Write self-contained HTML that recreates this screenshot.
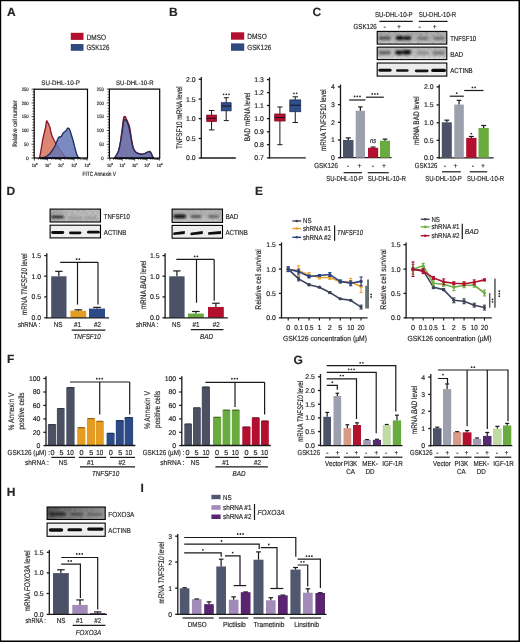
<!DOCTYPE html><html><head><meta charset="utf-8"><style>html,body{margin:0;padding:0;background:#fff;}svg{display:block;will-change:transform;}text{font-family:"Liberation Sans",sans-serif;fill:#262626;text-rendering:geometricPrecision;stroke:#262626;stroke-width:0.17px;}</style></head><body>
<svg width="520" height="642" viewBox="0 0 520 642">
<defs><filter id="bl" x="-20%" y="-50%" width="140%" height="200%"><feGaussianBlur stdDeviation="0.85"/></filter><filter id="bl2" x="-20%" y="-50%" width="140%" height="200%"><feGaussianBlur stdDeviation="0.5"/></filter><filter id="bl3" x="-20%" y="-50%" width="140%" height="200%"><feGaussianBlur stdDeviation="0.65"/></filter><filter id="nz" x="0" y="0" width="100%" height="100%"><feTurbulence type="fractalNoise" baseFrequency="0.35 0.6" numOctaves="2" seed="3"/><feColorMatrix type="matrix" values="1.6 0 0 0 -0.3  1.6 0 0 0 -0.3  1.6 0 0 0 -0.3  0 0 0 0 1"/></filter></defs>
<rect x="0" y="0" width="520" height="642" fill="#fff"/>
<text x="6.9" y="16.3" font-size="12" font-weight="bold" fill="#000">A</text>
<rect x="70.8" y="32.8" width="12.7" height="7.1" fill="#b30f2e"/>
<rect x="70.8" y="44" width="12.7" height="6.8" fill="#2f4a80"/>
<text x="86.7" y="39.5" font-size="7.7" textLength="19.3" lengthAdjust="spacingAndGlyphs">DMSO</text>
<text x="86.4" y="50.4" font-size="7.7" textLength="23" lengthAdjust="spacingAndGlyphs">GSK126</text>
<polygon points="39.5,158 41,150 42.8,139.2 44.5,132 45.7,127 46.3,122 46.9,120.7 47.5,122.5 48.5,123.5 49.3,126 50.1,127.5 50.6,131 51.2,133 52.1,136.4 53,138 54.2,140.5 55.4,142.5 57,145.3 59,148.3 61,151.3 63,154.3 65,156.6 66.8,158" fill="#dc8674" stroke="#8a1428" stroke-width="1.3" stroke-linejoin="round"/>
<polygon points="41,158 44,157.5 47,156 50,153.5 53,149.5 55.4,145 57.4,140 58.5,137.5 59.4,136.8 60.4,137 61.4,136.4 62.5,134 63.8,132.4 65,131.5 65.9,130.7 67,129 67.9,127.9 68.7,128.5 69.5,129.1 70.7,132.8 71.7,136 72.7,139.2 73.7,143 74.8,147.3 75.8,151 76.8,154.6 78,157 80,158" fill="rgba(100,118,182,0.85)" stroke="#1f2d5c" stroke-width="1.3" stroke-linejoin="round"/>
<polygon points="114.5,158 116.5,155 118.5,151 119.8,145.5 120.8,139.5 121.6,133 122.4,127 123.1,121 123.6,118 124.2,116.4 124.9,117.2 125.5,116.6 126.2,118.5 127,120.3 128,122.5 129.2,125.5 130.2,130 131,135.5 131.8,140.6 132.6,145 133.5,148.4 134.8,151 136.4,152.6 138.5,153.4 141,154.2 143,154 144.9,153.4 146.5,152.6 148,151.8 149.3,151.4 150.4,151.8 151.4,153.8 152.2,155.7 153.5,158" fill="#dc8674" stroke="#8a1428" stroke-width="1.3" stroke-linejoin="round"/>
<polygon points="114.5,158 116.5,155 118.5,151.3 119.8,146 120.8,140.4 121.6,135.5 122.4,131 123.1,125 123.6,121.7 124.4,119.2 125.2,120.2 125.8,119.6 126.5,121 127.2,122.2 128.3,125.2 129.1,128 129.8,131.5 130.6,136 131.4,140.6 132.3,145 133.2,148.4 134.6,151 136.4,152.8 138.5,153.6 141,154.4 143,154.2 144.9,153.6 146.5,152.8 148,152 149.3,151.6 150.4,152 151.4,154 152.2,155.9 153.5,158" fill="rgba(100,118,182,0.85)" stroke="#1f2d5c" stroke-width="1.3" stroke-linejoin="round"/>
<rect x="34.2" y="89.2" width="53.3" height="68.8" fill="none" stroke="#000" stroke-width="1.2"/>
<rect x="109.4" y="89.1" width="50.3" height="69" fill="none" stroke="#000" stroke-width="1.2"/>
<line x1="31.6" y1="158" x2="34.2" y2="158" stroke="#111" stroke-width="0.8"/>
<line x1="32.5" y1="155.25" x2="34.2" y2="155.25" stroke="#111" stroke-width="0.8"/>
<line x1="32.5" y1="152.5" x2="34.2" y2="152.5" stroke="#111" stroke-width="0.8"/>
<line x1="32.5" y1="149.74" x2="34.2" y2="149.74" stroke="#111" stroke-width="0.8"/>
<line x1="32.5" y1="146.99" x2="34.2" y2="146.99" stroke="#111" stroke-width="0.8"/>
<line x1="31.6" y1="144.24" x2="34.2" y2="144.24" stroke="#111" stroke-width="0.8"/>
<line x1="32.5" y1="141.49" x2="34.2" y2="141.49" stroke="#111" stroke-width="0.8"/>
<line x1="32.5" y1="138.74" x2="34.2" y2="138.74" stroke="#111" stroke-width="0.8"/>
<line x1="32.5" y1="135.98" x2="34.2" y2="135.98" stroke="#111" stroke-width="0.8"/>
<line x1="32.5" y1="133.23" x2="34.2" y2="133.23" stroke="#111" stroke-width="0.8"/>
<line x1="31.6" y1="130.48" x2="34.2" y2="130.48" stroke="#111" stroke-width="0.8"/>
<line x1="32.5" y1="127.73" x2="34.2" y2="127.73" stroke="#111" stroke-width="0.8"/>
<line x1="32.5" y1="124.98" x2="34.2" y2="124.98" stroke="#111" stroke-width="0.8"/>
<line x1="32.5" y1="122.22" x2="34.2" y2="122.22" stroke="#111" stroke-width="0.8"/>
<line x1="32.5" y1="119.47" x2="34.2" y2="119.47" stroke="#111" stroke-width="0.8"/>
<line x1="31.6" y1="116.72" x2="34.2" y2="116.72" stroke="#111" stroke-width="0.8"/>
<line x1="32.5" y1="113.97" x2="34.2" y2="113.97" stroke="#111" stroke-width="0.8"/>
<line x1="32.5" y1="111.22" x2="34.2" y2="111.22" stroke="#111" stroke-width="0.8"/>
<line x1="32.5" y1="108.46" x2="34.2" y2="108.46" stroke="#111" stroke-width="0.8"/>
<line x1="32.5" y1="105.71" x2="34.2" y2="105.71" stroke="#111" stroke-width="0.8"/>
<line x1="31.6" y1="102.96" x2="34.2" y2="102.96" stroke="#111" stroke-width="0.8"/>
<line x1="32.5" y1="100.21" x2="34.2" y2="100.21" stroke="#111" stroke-width="0.8"/>
<line x1="32.5" y1="97.46" x2="34.2" y2="97.46" stroke="#111" stroke-width="0.8"/>
<line x1="32.5" y1="94.7" x2="34.2" y2="94.7" stroke="#111" stroke-width="0.8"/>
<line x1="32.5" y1="91.95" x2="34.2" y2="91.95" stroke="#111" stroke-width="0.8"/>
<line x1="31.6" y1="89.2" x2="34.2" y2="89.2" stroke="#111" stroke-width="0.8"/>
<text x="28.6" y="159.6" font-size="4.84" text-anchor="end" fill="#333">0</text>
<text x="28.6" y="145.84" font-size="4.84" text-anchor="end" textLength="4.65" lengthAdjust="spacingAndGlyphs" fill="#333">50</text>
<text x="28.6" y="132.08" font-size="4.84" text-anchor="end" textLength="6.97" lengthAdjust="spacingAndGlyphs" fill="#333">100</text>
<text x="28.6" y="118.32" font-size="4.84" text-anchor="end" textLength="6.97" lengthAdjust="spacingAndGlyphs" fill="#333">150</text>
<text x="28.6" y="104.56" font-size="4.84" text-anchor="end" textLength="6.97" lengthAdjust="spacingAndGlyphs" fill="#333">200</text>
<text x="28.6" y="90.8" font-size="4.84" text-anchor="end" textLength="6.97" lengthAdjust="spacingAndGlyphs" fill="#333">250</text>
<line x1="34.4" y1="158" x2="34.4" y2="160.6" stroke="#111" stroke-width="0.8"/>
<line x1="38.37" y1="158" x2="38.37" y2="159.6" stroke="#111" stroke-width="0.8"/>
<line x1="40.7" y1="158" x2="40.7" y2="159.6" stroke="#111" stroke-width="0.8"/>
<line x1="42.35" y1="158" x2="42.35" y2="159.6" stroke="#111" stroke-width="0.8"/>
<line x1="43.63" y1="158" x2="43.63" y2="159.6" stroke="#111" stroke-width="0.8"/>
<line x1="44.67" y1="158" x2="44.67" y2="159.6" stroke="#111" stroke-width="0.8"/>
<line x1="45.56" y1="158" x2="45.56" y2="159.6" stroke="#111" stroke-width="0.8"/>
<line x1="46.32" y1="158" x2="46.32" y2="159.6" stroke="#111" stroke-width="0.8"/>
<line x1="47" y1="158" x2="47" y2="159.6" stroke="#111" stroke-width="0.8"/>
<line x1="47.6" y1="158" x2="47.6" y2="160.6" stroke="#111" stroke-width="0.8"/>
<line x1="51.57" y1="158" x2="51.57" y2="159.6" stroke="#111" stroke-width="0.8"/>
<line x1="53.9" y1="158" x2="53.9" y2="159.6" stroke="#111" stroke-width="0.8"/>
<line x1="55.55" y1="158" x2="55.55" y2="159.6" stroke="#111" stroke-width="0.8"/>
<line x1="56.83" y1="158" x2="56.83" y2="159.6" stroke="#111" stroke-width="0.8"/>
<line x1="57.87" y1="158" x2="57.87" y2="159.6" stroke="#111" stroke-width="0.8"/>
<line x1="58.76" y1="158" x2="58.76" y2="159.6" stroke="#111" stroke-width="0.8"/>
<line x1="59.52" y1="158" x2="59.52" y2="159.6" stroke="#111" stroke-width="0.8"/>
<line x1="60.2" y1="158" x2="60.2" y2="159.6" stroke="#111" stroke-width="0.8"/>
<line x1="60.8" y1="158" x2="60.8" y2="160.6" stroke="#111" stroke-width="0.8"/>
<line x1="64.77" y1="158" x2="64.77" y2="159.6" stroke="#111" stroke-width="0.8"/>
<line x1="67.1" y1="158" x2="67.1" y2="159.6" stroke="#111" stroke-width="0.8"/>
<line x1="68.75" y1="158" x2="68.75" y2="159.6" stroke="#111" stroke-width="0.8"/>
<line x1="70.03" y1="158" x2="70.03" y2="159.6" stroke="#111" stroke-width="0.8"/>
<line x1="71.07" y1="158" x2="71.07" y2="159.6" stroke="#111" stroke-width="0.8"/>
<line x1="71.96" y1="158" x2="71.96" y2="159.6" stroke="#111" stroke-width="0.8"/>
<line x1="72.72" y1="158" x2="72.72" y2="159.6" stroke="#111" stroke-width="0.8"/>
<line x1="73.4" y1="158" x2="73.4" y2="159.6" stroke="#111" stroke-width="0.8"/>
<line x1="74" y1="158" x2="74" y2="160.6" stroke="#111" stroke-width="0.8"/>
<line x1="77.97" y1="158" x2="77.97" y2="159.6" stroke="#111" stroke-width="0.8"/>
<line x1="80.3" y1="158" x2="80.3" y2="159.6" stroke="#111" stroke-width="0.8"/>
<line x1="81.95" y1="158" x2="81.95" y2="159.6" stroke="#111" stroke-width="0.8"/>
<line x1="83.23" y1="158" x2="83.23" y2="159.6" stroke="#111" stroke-width="0.8"/>
<line x1="84.27" y1="158" x2="84.27" y2="159.6" stroke="#111" stroke-width="0.8"/>
<line x1="85.16" y1="158" x2="85.16" y2="159.6" stroke="#111" stroke-width="0.8"/>
<line x1="85.92" y1="158" x2="85.92" y2="159.6" stroke="#111" stroke-width="0.8"/>
<line x1="86.6" y1="158" x2="86.6" y2="159.6" stroke="#111" stroke-width="0.8"/>
<line x1="87.2" y1="158" x2="87.2" y2="160.6" stroke="#111" stroke-width="0.7"/>
<text x="33.9" y="167.2" font-size="4.62" text-anchor="middle" textLength="4.44" lengthAdjust="spacingAndGlyphs" fill="#333">10</text>
<text x="36" y="164.6" font-size="2.86" fill="#333">0</text>
<text x="47.1" y="167.2" font-size="4.62" text-anchor="middle" textLength="4.44" lengthAdjust="spacingAndGlyphs" fill="#333">10</text>
<text x="49.2" y="164.6" font-size="2.86" fill="#333">1</text>
<text x="60.3" y="167.2" font-size="4.62" text-anchor="middle" textLength="4.44" lengthAdjust="spacingAndGlyphs" fill="#333">10</text>
<text x="62.4" y="164.6" font-size="2.86" fill="#333">2</text>
<text x="73.5" y="167.2" font-size="4.62" text-anchor="middle" textLength="4.44" lengthAdjust="spacingAndGlyphs" fill="#333">10</text>
<text x="75.6" y="164.6" font-size="2.86" fill="#333">3</text>
<text x="86.7" y="167.2" font-size="4.62" text-anchor="middle" textLength="4.44" lengthAdjust="spacingAndGlyphs" fill="#333">10</text>
<text x="88.8" y="164.6" font-size="2.86" fill="#333">4</text>
<line x1="106.8" y1="158.1" x2="109.4" y2="158.1" stroke="#111" stroke-width="0.8"/>
<line x1="107.7" y1="155.34" x2="109.4" y2="155.34" stroke="#111" stroke-width="0.8"/>
<line x1="107.7" y1="152.58" x2="109.4" y2="152.58" stroke="#111" stroke-width="0.8"/>
<line x1="107.7" y1="149.82" x2="109.4" y2="149.82" stroke="#111" stroke-width="0.8"/>
<line x1="107.7" y1="147.06" x2="109.4" y2="147.06" stroke="#111" stroke-width="0.8"/>
<line x1="106.8" y1="144.3" x2="109.4" y2="144.3" stroke="#111" stroke-width="0.8"/>
<line x1="107.7" y1="141.54" x2="109.4" y2="141.54" stroke="#111" stroke-width="0.8"/>
<line x1="107.7" y1="138.78" x2="109.4" y2="138.78" stroke="#111" stroke-width="0.8"/>
<line x1="107.7" y1="136.02" x2="109.4" y2="136.02" stroke="#111" stroke-width="0.8"/>
<line x1="107.7" y1="133.26" x2="109.4" y2="133.26" stroke="#111" stroke-width="0.8"/>
<line x1="106.8" y1="130.5" x2="109.4" y2="130.5" stroke="#111" stroke-width="0.8"/>
<line x1="107.7" y1="127.74" x2="109.4" y2="127.74" stroke="#111" stroke-width="0.8"/>
<line x1="107.7" y1="124.98" x2="109.4" y2="124.98" stroke="#111" stroke-width="0.8"/>
<line x1="107.7" y1="122.22" x2="109.4" y2="122.22" stroke="#111" stroke-width="0.8"/>
<line x1="107.7" y1="119.46" x2="109.4" y2="119.46" stroke="#111" stroke-width="0.8"/>
<line x1="106.8" y1="116.7" x2="109.4" y2="116.7" stroke="#111" stroke-width="0.8"/>
<line x1="107.7" y1="113.94" x2="109.4" y2="113.94" stroke="#111" stroke-width="0.8"/>
<line x1="107.7" y1="111.18" x2="109.4" y2="111.18" stroke="#111" stroke-width="0.8"/>
<line x1="107.7" y1="108.42" x2="109.4" y2="108.42" stroke="#111" stroke-width="0.8"/>
<line x1="107.7" y1="105.66" x2="109.4" y2="105.66" stroke="#111" stroke-width="0.8"/>
<line x1="106.8" y1="102.9" x2="109.4" y2="102.9" stroke="#111" stroke-width="0.8"/>
<line x1="107.7" y1="100.14" x2="109.4" y2="100.14" stroke="#111" stroke-width="0.8"/>
<line x1="107.7" y1="97.38" x2="109.4" y2="97.38" stroke="#111" stroke-width="0.8"/>
<line x1="107.7" y1="94.62" x2="109.4" y2="94.62" stroke="#111" stroke-width="0.8"/>
<line x1="107.7" y1="91.86" x2="109.4" y2="91.86" stroke="#111" stroke-width="0.8"/>
<line x1="106.8" y1="89.1" x2="109.4" y2="89.1" stroke="#111" stroke-width="0.8"/>
<text x="103.8" y="159.7" font-size="4.84" text-anchor="end" fill="#333">0</text>
<text x="103.8" y="145.9" font-size="4.84" text-anchor="end" textLength="4.65" lengthAdjust="spacingAndGlyphs" fill="#333">50</text>
<text x="103.8" y="132.1" font-size="4.84" text-anchor="end" textLength="6.97" lengthAdjust="spacingAndGlyphs" fill="#333">100</text>
<text x="103.8" y="118.3" font-size="4.84" text-anchor="end" textLength="6.97" lengthAdjust="spacingAndGlyphs" fill="#333">150</text>
<text x="103.8" y="104.5" font-size="4.84" text-anchor="end" textLength="6.97" lengthAdjust="spacingAndGlyphs" fill="#333">200</text>
<text x="103.8" y="90.7" font-size="4.84" text-anchor="end" textLength="6.97" lengthAdjust="spacingAndGlyphs" fill="#333">250</text>
<line x1="109.8" y1="158.1" x2="109.8" y2="160.7" stroke="#111" stroke-width="0.8"/>
<line x1="113.53" y1="158.1" x2="113.53" y2="159.7" stroke="#111" stroke-width="0.8"/>
<line x1="115.72" y1="158.1" x2="115.72" y2="159.7" stroke="#111" stroke-width="0.8"/>
<line x1="117.27" y1="158.1" x2="117.27" y2="159.7" stroke="#111" stroke-width="0.8"/>
<line x1="118.47" y1="158.1" x2="118.47" y2="159.7" stroke="#111" stroke-width="0.8"/>
<line x1="119.45" y1="158.1" x2="119.45" y2="159.7" stroke="#111" stroke-width="0.8"/>
<line x1="120.28" y1="158.1" x2="120.28" y2="159.7" stroke="#111" stroke-width="0.8"/>
<line x1="121" y1="158.1" x2="121" y2="159.7" stroke="#111" stroke-width="0.8"/>
<line x1="121.63" y1="158.1" x2="121.63" y2="159.7" stroke="#111" stroke-width="0.8"/>
<line x1="122.2" y1="158.1" x2="122.2" y2="160.7" stroke="#111" stroke-width="0.8"/>
<line x1="125.93" y1="158.1" x2="125.93" y2="159.7" stroke="#111" stroke-width="0.8"/>
<line x1="128.12" y1="158.1" x2="128.12" y2="159.7" stroke="#111" stroke-width="0.8"/>
<line x1="129.67" y1="158.1" x2="129.67" y2="159.7" stroke="#111" stroke-width="0.8"/>
<line x1="130.87" y1="158.1" x2="130.87" y2="159.7" stroke="#111" stroke-width="0.8"/>
<line x1="131.85" y1="158.1" x2="131.85" y2="159.7" stroke="#111" stroke-width="0.8"/>
<line x1="132.68" y1="158.1" x2="132.68" y2="159.7" stroke="#111" stroke-width="0.8"/>
<line x1="133.4" y1="158.1" x2="133.4" y2="159.7" stroke="#111" stroke-width="0.8"/>
<line x1="134.03" y1="158.1" x2="134.03" y2="159.7" stroke="#111" stroke-width="0.8"/>
<line x1="134.6" y1="158.1" x2="134.6" y2="160.7" stroke="#111" stroke-width="0.8"/>
<line x1="138.33" y1="158.1" x2="138.33" y2="159.7" stroke="#111" stroke-width="0.8"/>
<line x1="140.52" y1="158.1" x2="140.52" y2="159.7" stroke="#111" stroke-width="0.8"/>
<line x1="142.07" y1="158.1" x2="142.07" y2="159.7" stroke="#111" stroke-width="0.8"/>
<line x1="143.27" y1="158.1" x2="143.27" y2="159.7" stroke="#111" stroke-width="0.8"/>
<line x1="144.25" y1="158.1" x2="144.25" y2="159.7" stroke="#111" stroke-width="0.8"/>
<line x1="145.08" y1="158.1" x2="145.08" y2="159.7" stroke="#111" stroke-width="0.8"/>
<line x1="145.8" y1="158.1" x2="145.8" y2="159.7" stroke="#111" stroke-width="0.8"/>
<line x1="146.43" y1="158.1" x2="146.43" y2="159.7" stroke="#111" stroke-width="0.8"/>
<line x1="147" y1="158.1" x2="147" y2="160.7" stroke="#111" stroke-width="0.8"/>
<line x1="150.73" y1="158.1" x2="150.73" y2="159.7" stroke="#111" stroke-width="0.8"/>
<line x1="152.92" y1="158.1" x2="152.92" y2="159.7" stroke="#111" stroke-width="0.8"/>
<line x1="154.47" y1="158.1" x2="154.47" y2="159.7" stroke="#111" stroke-width="0.8"/>
<line x1="155.67" y1="158.1" x2="155.67" y2="159.7" stroke="#111" stroke-width="0.8"/>
<line x1="156.65" y1="158.1" x2="156.65" y2="159.7" stroke="#111" stroke-width="0.8"/>
<line x1="157.48" y1="158.1" x2="157.48" y2="159.7" stroke="#111" stroke-width="0.8"/>
<line x1="158.2" y1="158.1" x2="158.2" y2="159.7" stroke="#111" stroke-width="0.8"/>
<line x1="158.83" y1="158.1" x2="158.83" y2="159.7" stroke="#111" stroke-width="0.8"/>
<line x1="159.4" y1="158.1" x2="159.4" y2="160.7" stroke="#111" stroke-width="0.7"/>
<text x="109.3" y="167.2" font-size="4.62" text-anchor="middle" textLength="4.44" lengthAdjust="spacingAndGlyphs" fill="#333">10</text>
<text x="111.4" y="164.6" font-size="2.86" fill="#333">0</text>
<text x="121.7" y="167.2" font-size="4.62" text-anchor="middle" textLength="4.44" lengthAdjust="spacingAndGlyphs" fill="#333">10</text>
<text x="123.8" y="164.6" font-size="2.86" fill="#333">1</text>
<text x="134.1" y="167.2" font-size="4.62" text-anchor="middle" textLength="4.44" lengthAdjust="spacingAndGlyphs" fill="#333">10</text>
<text x="136.2" y="164.6" font-size="2.86" fill="#333">2</text>
<text x="146.5" y="167.2" font-size="4.62" text-anchor="middle" textLength="4.44" lengthAdjust="spacingAndGlyphs" fill="#333">10</text>
<text x="148.6" y="164.6" font-size="2.86" fill="#333">3</text>
<text x="158.9" y="167.2" font-size="4.62" text-anchor="middle" textLength="4.44" lengthAdjust="spacingAndGlyphs" fill="#333">10</text>
<text x="161" y="164.6" font-size="2.86" fill="#333">4</text>
<text x="60.6" y="84.6" font-size="6.6" text-anchor="middle" textLength="38.5" lengthAdjust="spacingAndGlyphs">SU-DHL-10-P</text>
<text x="134.8" y="84.6" font-size="6.6" text-anchor="middle" textLength="37.5" lengthAdjust="spacingAndGlyphs">SU-DHL-10-R</text>
<text x="99.3" y="176.2" font-size="6.16" text-anchor="middle" textLength="33.5" lengthAdjust="spacingAndGlyphs">FITC Annexin V</text>
<text x="16.54" y="123.6" font-size="6.4" text-anchor="middle" textLength="46.4" lengthAdjust="spacingAndGlyphs" transform="rotate(-90 16.54 123.6)">Relative cell number</text>
<text x="169" y="16.3" font-size="12" font-weight="bold" fill="#000">B</text>
<rect x="231" y="32.3" width="13.2" height="7.4" fill="#b30f2e"/>
<rect x="231" y="43.4" width="13.2" height="7.4" fill="#2f4a80"/>
<text x="247.2" y="39" font-size="7.48" textLength="19.6" lengthAdjust="spacingAndGlyphs">DMSO</text>
<text x="247.2" y="50.2" font-size="7.48" textLength="24" lengthAdjust="spacingAndGlyphs">GSK126</text>
<line x1="201.3" y1="77" x2="201.3" y2="158.5" stroke="#1a1a1a" stroke-width="1.3"/>
<line x1="198.7" y1="79.3" x2="201.3" y2="79.3" stroke="#1a1a1a" stroke-width="1.3"/>
<text x="195.7" y="81.75" font-size="6.9" text-anchor="end">2.0</text>
<line x1="198.7" y1="99.1" x2="201.3" y2="99.1" stroke="#1a1a1a" stroke-width="1.3"/>
<text x="195.7" y="101.55" font-size="6.9" text-anchor="end">1.5</text>
<line x1="198.7" y1="118.7" x2="201.3" y2="118.7" stroke="#1a1a1a" stroke-width="1.3"/>
<text x="195.7" y="121.15" font-size="6.9" text-anchor="end">1.0</text>
<line x1="198.7" y1="138.5" x2="201.3" y2="138.5" stroke="#1a1a1a" stroke-width="1.3"/>
<text x="195.7" y="140.95" font-size="6.9" text-anchor="end">0.5</text>
<line x1="198.7" y1="158" x2="201.3" y2="158" stroke="#1a1a1a" stroke-width="1.3"/>
<text x="195.7" y="160.45" font-size="6.9" text-anchor="end">0.0</text>
<line x1="200.8" y1="158" x2="235.8" y2="158" stroke="#1a1a1a" stroke-width="1.3"/>
<line x1="211.55" y1="110.5" x2="211.55" y2="129.9" stroke="#1a1a1a" stroke-width="1"/>
<line x1="208.9" y1="110.5" x2="214.5" y2="110.5" stroke="#1a1a1a" stroke-width="1"/>
<line x1="208.9" y1="129.9" x2="214.5" y2="129.9" stroke="#1a1a1a" stroke-width="1"/>
<rect x="206.7" y="115.1" width="9.7" height="6.3" fill="#b30f2e" stroke="#7a0a20" stroke-width="0.8"/>
<line x1="206.7" y1="118.3" x2="216.4" y2="118.3" stroke="#1a1020" stroke-width="1"/>
<line x1="226.2" y1="97.7" x2="226.2" y2="120.6" stroke="#1a1a1a" stroke-width="1"/>
<line x1="223.8" y1="97.7" x2="228.8" y2="97.7" stroke="#1a1a1a" stroke-width="1"/>
<line x1="223.8" y1="120.6" x2="228.8" y2="120.6" stroke="#1a1a1a" stroke-width="1"/>
<rect x="221.3" y="102.7" width="9.8" height="8.1" fill="#2f4f8a" stroke="#1a2f5a" stroke-width="0.8"/>
<line x1="221.3" y1="106.1" x2="231.1" y2="106.1" stroke="#1a1020" stroke-width="1"/>
<circle cx="223.6" cy="94.3" r="0.9" fill="#2a2a2a"/>
<circle cx="226.3" cy="94.3" r="0.9" fill="#2a2a2a"/>
<circle cx="229" cy="94.3" r="0.9" fill="#2a2a2a"/>
<text x="181.56" y="117.7" font-size="8.1" text-anchor="middle" textLength="62.6" lengthAdjust="spacingAndGlyphs" transform="rotate(-90 181.56 117.7)">TNFSF10 mRNA level</text>
<line x1="269.5" y1="77.3" x2="269.5" y2="158.5" stroke="#1a1a1a" stroke-width="1.3"/>
<line x1="266.9" y1="79.6" x2="269.5" y2="79.6" stroke="#1a1a1a" stroke-width="1.3"/>
<text x="263.9" y="82.05" font-size="6.9" text-anchor="end">1.3</text>
<line x1="266.9" y1="92.6" x2="269.5" y2="92.6" stroke="#1a1a1a" stroke-width="1.3"/>
<text x="263.9" y="95.05" font-size="6.9" text-anchor="end">1.2</text>
<line x1="266.9" y1="105.5" x2="269.5" y2="105.5" stroke="#1a1a1a" stroke-width="1.3"/>
<text x="263.9" y="107.95" font-size="6.9" text-anchor="end">1.1</text>
<line x1="266.9" y1="118.6" x2="269.5" y2="118.6" stroke="#1a1a1a" stroke-width="1.3"/>
<text x="263.9" y="121.05" font-size="6.9" text-anchor="end">1.0</text>
<line x1="266.9" y1="131.8" x2="269.5" y2="131.8" stroke="#1a1a1a" stroke-width="1.3"/>
<text x="263.9" y="134.25" font-size="6.9" text-anchor="end">0.9</text>
<line x1="266.9" y1="144.7" x2="269.5" y2="144.7" stroke="#1a1a1a" stroke-width="1.3"/>
<text x="263.9" y="147.15" font-size="6.9" text-anchor="end">0.8</text>
<line x1="266.9" y1="157.9" x2="269.5" y2="157.9" stroke="#1a1a1a" stroke-width="1.3"/>
<text x="263.9" y="160.35" font-size="6.9" text-anchor="end">0.7</text>
<line x1="269" y1="157.9" x2="305.8" y2="157.9" stroke="#1a1a1a" stroke-width="1.3"/>
<line x1="279.9" y1="107" x2="279.9" y2="144.7" stroke="#1a1a1a" stroke-width="1"/>
<line x1="277.3" y1="107" x2="282.5" y2="107" stroke="#1a1a1a" stroke-width="1"/>
<line x1="277.3" y1="144.7" x2="282.5" y2="144.7" stroke="#1a1a1a" stroke-width="1"/>
<rect x="274.7" y="114" width="10.4" height="7" fill="#b30f2e" stroke="#7a0a20" stroke-width="0.8"/>
<line x1="274.7" y1="117.5" x2="285.1" y2="117.5" stroke="#1a1020" stroke-width="1"/>
<line x1="295.25" y1="96.8" x2="295.25" y2="122.5" stroke="#1a1a1a" stroke-width="1"/>
<line x1="292.6" y1="96.8" x2="298" y2="96.8" stroke="#1a1a1a" stroke-width="1"/>
<line x1="292.6" y1="122.5" x2="298" y2="122.5" stroke="#1a1a1a" stroke-width="1"/>
<rect x="289.8" y="99.9" width="10.9" height="11.8" fill="#2f4f8a" stroke="#1a2f5a" stroke-width="0.8"/>
<line x1="289.8" y1="105.2" x2="300.7" y2="105.2" stroke="#1a1020" stroke-width="1"/>
<circle cx="293.95" cy="93.3" r="0.9" fill="#2a2a2a"/>
<circle cx="296.65" cy="93.3" r="0.9" fill="#2a2a2a"/>
<text x="249.56" y="116.9" font-size="8.1" text-anchor="middle" textLength="48.6" lengthAdjust="spacingAndGlyphs" transform="rotate(-90 249.56 116.9)">BAD mRNA level</text>
<text x="312.5" y="16.3" font-size="12" font-weight="bold" fill="#000">C</text>
<text x="375" y="16.8" font-size="7.26" textLength="37.7" lengthAdjust="spacingAndGlyphs">SU-DHL-10-P</text>
<text x="418.7" y="16.8" font-size="7.26" textLength="37.5" lengthAdjust="spacingAndGlyphs">SU-DHL-10-R</text>
<line x1="379.4" y1="21.4" x2="412.7" y2="21.4" stroke="#1a1a1a" stroke-width="1.2"/>
<line x1="418.7" y1="21.4" x2="447.6" y2="21.4" stroke="#1a1a1a" stroke-width="1.2"/>
<text x="353.5" y="28.9" font-size="7.26" textLength="23.3" lengthAdjust="spacingAndGlyphs">GSK126</text>
<text x="384.6" y="29" font-size="6.82" text-anchor="middle">-</text>
<text x="399" y="29" font-size="6.82" text-anchor="middle">+</text>
<text x="419.6" y="29" font-size="6.82" text-anchor="middle">-</text>
<text x="434.8" y="29" font-size="6.82" text-anchor="middle">+</text>
<rect x="377.2" y="31.4" width="69.6" height="12.7" fill="#acacac"/>
<linearGradient id="g247v" x1="0" y1="0" x2="0" y2="1"><stop offset="0" stop-color="#a0a0a0" stop-opacity="1"/><stop offset="0.6" stop-color="#adadad" stop-opacity="1"/><stop offset="1" stop-color="#c4c4c4" stop-opacity="1"/></linearGradient>
<rect x="377.2" y="31.4" width="69.6" height="12.7" fill="url(#g247v)"/>
<rect x="377.2" y="31.4" width="69.6" height="12.7" fill="#808080" filter="url(#nz)" opacity="0.14"/>
<g filter="url(#bl)">
<rect x="378.6" y="36.6" width="12" height="3.2" rx="1.6" fill="#404040" opacity="0.85"/>
<rect x="395.8" y="35.9" width="8" height="4" rx="2" fill="#0a0a0a" opacity="1"/>
<rect x="403.2" y="36.3" width="8.2" height="3.6" rx="1.8" fill="#151515" opacity="1"/>
<rect x="417" y="36.7" width="11.4" height="3.2" rx="1.6" fill="#505050" opacity="0.6"/>
<rect x="433.2" y="36.7" width="11.6" height="3.2" rx="1.6" fill="#505050" opacity="0.62"/>
</g>
<rect x="377.2" y="31.4" width="69.6" height="12.7" fill="none" stroke="#000" stroke-width="1.1"/>
<rect x="377.2" y="47.1" width="69.6" height="12.5" fill="#bcbcbc"/>
<linearGradient id="g259v" x1="0" y1="0" x2="0" y2="1"><stop offset="0" stop-color="#b0b0b0" stop-opacity="1"/><stop offset="0.7" stop-color="#c0c0c0" stop-opacity="1"/><stop offset="1" stop-color="#dedede" stop-opacity="1"/></linearGradient>
<rect x="377.2" y="47.1" width="69.6" height="12.5" fill="url(#g259v)"/>
<rect x="377.2" y="47.1" width="69.6" height="12.5" fill="#808080" filter="url(#nz)" opacity="0.14"/>
<g filter="url(#bl)">
<rect x="378.6" y="51" width="12" height="3.6" rx="1.8" fill="#404040" opacity="0.75"/>
<rect x="395.2" y="50.5" width="7.8" height="4.2" rx="2.1" fill="#101010" opacity="1"/>
<rect x="402.5" y="50" width="8.5" height="4.4" rx="2.2" fill="#0a0a0a" opacity="1"/>
<rect x="416.8" y="51.3" width="12" height="3.4" rx="1.7" fill="#707070" opacity="0.55"/>
<rect x="432.5" y="51.2" width="12.5" height="3.6" rx="1.8" fill="#505050" opacity="0.62"/>
</g>
<rect x="377.2" y="47.1" width="69.6" height="12.5" fill="none" stroke="#000" stroke-width="1.1"/>
<rect x="377.2" y="63" width="69.6" height="13.1" fill="#ebebeb"/>
<g filter="url(#bl3)">
<rect x="378.4" y="68.85" width="13.2" height="2.9" rx="1.45" fill="#111" opacity="1"/>
<rect x="396" y="69.15" width="12.6" height="2.7" rx="1.35" fill="#161616" opacity="1"/>
<rect x="414.8" y="69.45" width="13.8" height="2.7" rx="1.35" fill="#161616" opacity="1"/>
<rect x="431.2" y="68.75" width="14.8" height="3.3" rx="1.65" fill="#0a0a0a" opacity="1"/>
</g>
<rect x="377.2" y="63" width="69.6" height="13.1" fill="none" stroke="#000" stroke-width="1.1"/>
<text x="450.2" y="41.3" font-size="7.26" textLength="26" lengthAdjust="spacingAndGlyphs">TNFSF10</text>
<text x="450.2" y="56.6" font-size="7.26" textLength="13" lengthAdjust="spacingAndGlyphs">BAD</text>
<text x="450.2" y="72.5" font-size="7.26" textLength="22.5" lengthAdjust="spacingAndGlyphs">ACTINB</text>
<line x1="340.5" y1="84.6" x2="340.5" y2="158.2" stroke="#1a1a1a" stroke-width="1.3"/>
<line x1="337.9" y1="86.9" x2="340.5" y2="86.9" stroke="#1a1a1a" stroke-width="1.3"/>
<text x="334.9" y="89.35" font-size="6.9" text-anchor="end">4</text>
<line x1="337.9" y1="104.6" x2="340.5" y2="104.6" stroke="#1a1a1a" stroke-width="1.3"/>
<text x="334.9" y="107.05" font-size="6.9" text-anchor="end">3</text>
<line x1="337.9" y1="122.3" x2="340.5" y2="122.3" stroke="#1a1a1a" stroke-width="1.3"/>
<text x="334.9" y="124.75" font-size="6.9" text-anchor="end">2</text>
<line x1="337.9" y1="140" x2="340.5" y2="140" stroke="#1a1a1a" stroke-width="1.3"/>
<text x="334.9" y="142.45" font-size="6.9" text-anchor="end">1</text>
<line x1="337.9" y1="157.7" x2="340.5" y2="157.7" stroke="#1a1a1a" stroke-width="1.3"/>
<text x="334.9" y="160.15" font-size="6.9" text-anchor="end">0</text>
<line x1="340" y1="157.7" x2="391.5" y2="157.7" stroke="#1a1a1a" stroke-width="1.3"/>
<rect x="343" y="140" width="10.5" height="17.7" fill="#4b5268"/>
<line x1="348.25" y1="140" x2="348.25" y2="137.88" stroke="#1a1a1a" stroke-width="1.2"/>
<line x1="345.73" y1="137.88" x2="350.77" y2="137.88" stroke="#1a1a1a" stroke-width="1.2"/>
<rect x="355.7" y="110.79" width="9.3" height="46.91" fill="#9c9fac"/>
<line x1="360.35" y1="110.79" x2="360.35" y2="106.9" stroke="#1a1a1a" stroke-width="1.2"/>
<line x1="358.12" y1="106.9" x2="362.58" y2="106.9" stroke="#1a1a1a" stroke-width="1.2"/>
<rect x="368" y="147.79" width="10.2" height="9.91" fill="#b30f2e"/>
<line x1="373.1" y1="147.79" x2="373.1" y2="147.08" stroke="#1a1a1a" stroke-width="1.2"/>
<line x1="370.65" y1="147.08" x2="375.55" y2="147.08" stroke="#1a1a1a" stroke-width="1.2"/>
<rect x="380" y="140.71" width="10" height="16.99" fill="#69ab3e"/>
<line x1="385" y1="140.71" x2="385" y2="139.11" stroke="#1a1a1a" stroke-width="1.2"/>
<line x1="382.6" y1="139.11" x2="387.4" y2="139.11" stroke="#1a1a1a" stroke-width="1.2"/>
<text x="373.1" y="143.2" font-size="6.82" text-anchor="middle" textLength="6.22" lengthAdjust="spacingAndGlyphs" font-style="italic">ns</text>
<line x1="349.2" y1="100" x2="365.4" y2="100" stroke="#1a1a1a" stroke-width="1.2"/>
<line x1="366" y1="97.2" x2="383.8" y2="97.2" stroke="#1a1a1a" stroke-width="1.2"/>
<circle cx="354.6" cy="96.4" r="0.9" fill="#2a2a2a"/>
<circle cx="357.3" cy="96.4" r="0.9" fill="#2a2a2a"/>
<circle cx="360" cy="96.4" r="0.9" fill="#2a2a2a"/>
<circle cx="372.2" cy="93.9" r="0.9" fill="#2a2a2a"/>
<circle cx="374.9" cy="93.9" r="0.9" fill="#2a2a2a"/>
<circle cx="377.6" cy="93.9" r="0.9" fill="#2a2a2a"/>
<text x="325.56" y="120.2" font-size="8.1" text-anchor="middle" textLength="61.6" lengthAdjust="spacingAndGlyphs" transform="rotate(-90 325.56 120.2)">mRNA TNFSF10 level</text>
<text x="314.2" y="167.7" font-size="7.26" textLength="23.7" lengthAdjust="spacingAndGlyphs">GSK126</text>
<text x="348" y="167.7" font-size="6.82" text-anchor="middle">-</text>
<text x="359.6" y="167.7" font-size="6.82" text-anchor="middle">+</text>
<text x="373" y="167.7" font-size="6.82" text-anchor="middle">-</text>
<text x="384" y="167.7" font-size="6.82" text-anchor="middle">+</text>
<line x1="343.6" y1="172.7" x2="362" y2="172.7" stroke="#1a1a1a" stroke-width="1.2"/>
<line x1="367.7" y1="172.7" x2="388.8" y2="172.7" stroke="#1a1a1a" stroke-width="1.2"/>
<text x="326.3" y="181.2" font-size="7.26" textLength="36.6" lengthAdjust="spacingAndGlyphs">SU-DHL-10-P</text>
<text x="367.7" y="181.2" font-size="7.26" textLength="38.3" lengthAdjust="spacingAndGlyphs">SU-DHL-10-R</text>
<line x1="439.2" y1="84.6" x2="439.2" y2="158.4" stroke="#1a1a1a" stroke-width="1.3"/>
<line x1="436.6" y1="86.9" x2="439.2" y2="86.9" stroke="#1a1a1a" stroke-width="1.3"/>
<text x="433.6" y="89.35" font-size="6.9" text-anchor="end">2.0</text>
<line x1="436.6" y1="104.9" x2="439.2" y2="104.9" stroke="#1a1a1a" stroke-width="1.3"/>
<text x="433.6" y="107.35" font-size="6.9" text-anchor="end">1.5</text>
<line x1="436.6" y1="122.8" x2="439.2" y2="122.8" stroke="#1a1a1a" stroke-width="1.3"/>
<text x="433.6" y="125.25" font-size="6.9" text-anchor="end">1.0</text>
<line x1="436.6" y1="140.3" x2="439.2" y2="140.3" stroke="#1a1a1a" stroke-width="1.3"/>
<text x="433.6" y="142.75" font-size="6.9" text-anchor="end">0.5</text>
<line x1="436.6" y1="157.7" x2="439.2" y2="157.7" stroke="#1a1a1a" stroke-width="1.3"/>
<text x="433.6" y="160.15" font-size="6.9" text-anchor="end">0.0</text>
<line x1="438.7" y1="157.9" x2="493.6" y2="157.9" stroke="#1a1a1a" stroke-width="1.3"/>
<rect x="441.8" y="122.3" width="10" height="35.4" fill="#4b5268"/>
<line x1="446.8" y1="122.3" x2="446.8" y2="120.18" stroke="#1a1a1a" stroke-width="1.2"/>
<line x1="444.4" y1="120.18" x2="449.2" y2="120.18" stroke="#1a1a1a" stroke-width="1.2"/>
<rect x="454.3" y="104.6" width="9.5" height="53.1" fill="#9c9fac"/>
<line x1="459.05" y1="104.6" x2="459.05" y2="100.35" stroke="#1a1a1a" stroke-width="1.2"/>
<line x1="456.77" y1="100.35" x2="461.33" y2="100.35" stroke="#1a1a1a" stroke-width="1.2"/>
<rect x="466.2" y="137.88" width="10.3" height="19.82" fill="#b30f2e"/>
<line x1="471.35" y1="137.88" x2="471.35" y2="136.46" stroke="#1a1a1a" stroke-width="1.2"/>
<line x1="468.88" y1="136.46" x2="473.82" y2="136.46" stroke="#1a1a1a" stroke-width="1.2"/>
<rect x="478.5" y="127.96" width="10.3" height="29.74" fill="#69ab3e"/>
<line x1="483.65" y1="127.96" x2="483.65" y2="125.49" stroke="#1a1a1a" stroke-width="1.2"/>
<line x1="481.18" y1="125.49" x2="486.12" y2="125.49" stroke="#1a1a1a" stroke-width="1.2"/>
<circle cx="471.3" cy="133.6" r="0.9" fill="#2a2a2a"/>
<line x1="449.7" y1="96.2" x2="463.8" y2="96.2" stroke="#1a1a1a" stroke-width="1.2"/>
<line x1="464.2" y1="90.5" x2="483.5" y2="90.5" stroke="#1a1a1a" stroke-width="1.2"/>
<circle cx="456.7" cy="93.2" r="0.9" fill="#2a2a2a"/>
<circle cx="472.45" cy="87.4" r="0.9" fill="#2a2a2a"/>
<circle cx="475.15" cy="87.4" r="0.9" fill="#2a2a2a"/>
<text x="419.46" y="120.7" font-size="8.1" text-anchor="middle" textLength="48.8" lengthAdjust="spacingAndGlyphs" transform="rotate(-90 419.46 120.7)">mRNA BAD level</text>
<text x="414.7" y="168" font-size="7.26" textLength="22.8" lengthAdjust="spacingAndGlyphs">GSK126</text>
<text x="445" y="168" font-size="6.82" text-anchor="middle">-</text>
<text x="455.5" y="168" font-size="6.82" text-anchor="middle">+</text>
<text x="473" y="168" font-size="6.82" text-anchor="middle">-</text>
<text x="483" y="168" font-size="6.82" text-anchor="middle">+</text>
<line x1="442" y1="171.8" x2="460.8" y2="171.8" stroke="#1a1a1a" stroke-width="1.2"/>
<line x1="469.7" y1="171.8" x2="487.2" y2="171.8" stroke="#1a1a1a" stroke-width="1.2"/>
<text x="425.2" y="180.7" font-size="7.26" textLength="36.6" lengthAdjust="spacingAndGlyphs">SU-DHL-10-P</text>
<text x="467" y="180.7" font-size="7.26" textLength="37" lengthAdjust="spacingAndGlyphs">SU-DHL-10-R</text>
<text x="6.6" y="194.8" font-size="12" font-weight="bold" fill="#000">D</text>
<linearGradient id="g366" x1="0" y1="0" x2="1" y2="0"><stop offset="0" stop-color="#a4a4a4"/><stop offset="0.3" stop-color="#b2b2b2"/><stop offset="1" stop-color="#b8b8b8"/></linearGradient>
<rect x="50.1" y="209.1" width="50.4" height="12.9" fill="url(#g366)"/>
<rect x="50.1" y="209.1" width="50.4" height="12.9" fill="#808080" filter="url(#nz)" opacity="0.12"/>
<g filter="url(#bl)">
<rect x="51.4" y="215.7" width="12.4" height="2.4" rx="1.2" fill="#0d0d0d" opacity="1"/>
<rect x="51.4" y="211.9" width="11.6" height="1.4" rx="0.7" fill="#777" opacity="0.5"/>
<rect x="68.5" y="217.1" width="13" height="1.8" rx="0.9" fill="#777" opacity="0.55"/>
<rect x="84.5" y="217.1" width="12.5" height="1.8" rx="0.9" fill="#777" opacity="0.55"/>
</g>
<rect x="50.1" y="209.1" width="50.4" height="12.9" fill="none" stroke="#000" stroke-width="1.1"/>
<rect x="50.1" y="225.2" width="50.4" height="12.7" fill="#efefef"/>
<g filter="url(#bl3)">
<rect x="51.2" y="231.1" width="13" height="2.8" rx="1.4" fill="#111" opacity="1"/>
<rect x="69" y="231.4" width="12.4" height="2.8" rx="1.4" fill="#111" opacity="1"/>
<rect x="87" y="230.8" width="12.8" height="2.8" rx="1.4" fill="#111" opacity="1"/>
</g>
<rect x="50.1" y="225.2" width="50.4" height="12.7" fill="none" stroke="#000" stroke-width="1.1"/>
<text x="103.8" y="218.6" font-size="7.26" textLength="26" lengthAdjust="spacingAndGlyphs">TNFSF10</text>
<text x="103.8" y="235" font-size="7.26" textLength="22.5" lengthAdjust="spacingAndGlyphs">ACTINB</text>
<line x1="46.8" y1="253.3" x2="46.8" y2="318.3" stroke="#1a1a1a" stroke-width="1.3"/>
<line x1="44.2" y1="255.6" x2="46.8" y2="255.6" stroke="#1a1a1a" stroke-width="1.3"/>
<text x="41.2" y="258.05" font-size="6.9" text-anchor="end">1.5</text>
<line x1="44.2" y1="276.2" x2="46.8" y2="276.2" stroke="#1a1a1a" stroke-width="1.3"/>
<text x="41.2" y="278.65" font-size="6.9" text-anchor="end">1.0</text>
<line x1="44.2" y1="296.9" x2="46.8" y2="296.9" stroke="#1a1a1a" stroke-width="1.3"/>
<text x="41.2" y="299.35" font-size="6.9" text-anchor="end">0.5</text>
<line x1="44.2" y1="317.8" x2="46.8" y2="317.8" stroke="#1a1a1a" stroke-width="1.3"/>
<text x="41.2" y="320.25" font-size="6.9" text-anchor="end">0.0</text>
<rect x="51.2" y="276.3" width="15.3" height="41.4" fill="#4b5268"/>
<line x1="58.85" y1="276.3" x2="58.85" y2="271.33" stroke="#1a1a1a" stroke-width="1.2"/>
<line x1="55.18" y1="271.33" x2="62.52" y2="271.33" stroke="#1a1a1a" stroke-width="1.2"/>
<rect x="70.4" y="310.66" width="15.8" height="7.04" fill="#e59c22"/>
<line x1="78.3" y1="310.66" x2="78.3" y2="309.83" stroke="#1a1a1a" stroke-width="1.2"/>
<line x1="74.51" y1="309.83" x2="82.09" y2="309.83" stroke="#1a1a1a" stroke-width="1.2"/>
<rect x="89" y="308.59" width="16" height="9.11" fill="#2c4a86"/>
<line x1="97" y1="308.59" x2="97" y2="307.35" stroke="#1a1a1a" stroke-width="1.2"/>
<line x1="93.16" y1="307.35" x2="100.84" y2="307.35" stroke="#1a1a1a" stroke-width="1.2"/>
<line x1="46.3" y1="317.8" x2="109" y2="317.8" stroke="#1a1a1a" stroke-width="1.3"/>
<line x1="60.2" y1="262.3" x2="98" y2="262.3" stroke="#1a1a1a" stroke-width="1.2"/>
<line x1="77.5" y1="262.3" x2="77.5" y2="304.6" stroke="#1a1a1a" stroke-width="1.2"/>
<line x1="98" y1="262.3" x2="98" y2="304.6" stroke="#1a1a1a" stroke-width="1.2"/>
<circle cx="76.65" cy="259.2" r="0.9" fill="#2a2a2a"/>
<circle cx="79.35" cy="259.2" r="0.9" fill="#2a2a2a"/>
<text x="27.21" y="284.1" font-size="8.1" text-anchor="middle" textLength="61.6" lengthAdjust="spacingAndGlyphs" transform="rotate(-90 27.21 284.1)">mRNA <tspan font-style="italic">TNFSF10</tspan> level</text>
<text x="17.9" y="327" font-size="7.26" textLength="22.3" lengthAdjust="spacingAndGlyphs">shRNA :</text>
<text x="58.2" y="327" font-size="7.26" text-anchor="middle" textLength="8.71" lengthAdjust="spacingAndGlyphs">NS</text>
<text x="77.5" y="327" font-size="7.26" text-anchor="middle" textLength="6.97" lengthAdjust="spacingAndGlyphs">#1</text>
<text x="97.6" y="327" font-size="7.26" text-anchor="middle" textLength="6.97" lengthAdjust="spacingAndGlyphs">#2</text>
<line x1="71.7" y1="330.2" x2="105.4" y2="330.2" stroke="#1a1a1a" stroke-width="1.2"/>
<text x="87.1" y="338.9" font-size="7.26" text-anchor="middle" textLength="27.17" lengthAdjust="spacingAndGlyphs" font-style="italic">TNFSF10</text>
<rect x="172.1" y="209.1" width="50.4" height="13.3" fill="#b0b0b0"/>
<linearGradient id="g416v" x1="0" y1="0" x2="0" y2="1"><stop offset="0" stop-color="#a8a8a8" stop-opacity="1"/><stop offset="0.6" stop-color="#b0b0b0" stop-opacity="1"/><stop offset="1" stop-color="#c8c8c8" stop-opacity="1"/></linearGradient>
<rect x="172.1" y="209.1" width="50.4" height="13.3" fill="url(#g416v)"/>
<rect x="172.1" y="209.1" width="50.4" height="13.3" fill="#808080" filter="url(#nz)" opacity="0.12"/>
<g filter="url(#bl)">
<rect x="173.4" y="214.6" width="12.6" height="3.6" rx="1.8" fill="#0a0a0a" opacity="1"/>
<rect x="190.6" y="215.1" width="10.8" height="3" rx="1.5" fill="#3a3a3a" opacity="0.75"/>
<rect x="208.2" y="215.1" width="10.8" height="3" rx="1.5" fill="#4a4a4a" opacity="0.7"/>
</g>
<rect x="172.1" y="209.1" width="50.4" height="13.3" fill="none" stroke="#000" stroke-width="1.1"/>
<rect x="172.1" y="225.4" width="50.4" height="12.8" fill="#eeeeee"/>
<g filter="url(#bl3)">
<polygon points="173.4,232.6 184.8,231.1 184.8,233.9 173.4,235.1" fill="#0a0a0a"/>
<polygon points="190.6,232.7 202.8,231.1 202.8,233.9 190.6,235.2" fill="#0a0a0a"/>
<polygon points="208.2,232.2 221,231.1 221,233.9 208.2,234.7" fill="#0a0a0a"/>
</g>
<rect x="172.1" y="225.4" width="50.4" height="12.8" fill="none" stroke="#000" stroke-width="1.1"/>
<text x="225.4" y="218.6" font-size="7.26" textLength="13" lengthAdjust="spacingAndGlyphs">BAD</text>
<text x="225.4" y="235" font-size="7.26" textLength="22.5" lengthAdjust="spacingAndGlyphs">ACTINB</text>
<line x1="165.1" y1="253.3" x2="165.1" y2="318.3" stroke="#1a1a1a" stroke-width="1.3"/>
<line x1="162.5" y1="255.6" x2="165.1" y2="255.6" stroke="#1a1a1a" stroke-width="1.3"/>
<text x="159.5" y="258.05" font-size="6.9" text-anchor="end">1.5</text>
<line x1="162.5" y1="276.2" x2="165.1" y2="276.2" stroke="#1a1a1a" stroke-width="1.3"/>
<text x="159.5" y="278.65" font-size="6.9" text-anchor="end">1.0</text>
<line x1="162.5" y1="296.9" x2="165.1" y2="296.9" stroke="#1a1a1a" stroke-width="1.3"/>
<text x="159.5" y="299.35" font-size="6.9" text-anchor="end">0.5</text>
<line x1="162.5" y1="317.8" x2="165.1" y2="317.8" stroke="#1a1a1a" stroke-width="1.3"/>
<text x="159.5" y="320.25" font-size="6.9" text-anchor="end">0.0</text>
<rect x="169.2" y="276.3" width="15.4" height="41.4" fill="#4b5268"/>
<line x1="176.9" y1="276.3" x2="176.9" y2="270.92" stroke="#1a1a1a" stroke-width="1.2"/>
<line x1="173.2" y1="270.92" x2="180.6" y2="270.92" stroke="#1a1a1a" stroke-width="1.2"/>
<rect x="187.9" y="313.56" width="15.9" height="4.14" fill="#69ab3e"/>
<line x1="195.85" y1="313.56" x2="195.85" y2="311.49" stroke="#1a1a1a" stroke-width="1.2"/>
<line x1="192.03" y1="311.49" x2="199.67" y2="311.49" stroke="#1a1a1a" stroke-width="1.2"/>
<rect x="208" y="306.94" width="15.8" height="10.76" fill="#b30f2e"/>
<line x1="215.9" y1="306.94" x2="215.9" y2="303.21" stroke="#1a1a1a" stroke-width="1.2"/>
<line x1="212.11" y1="303.21" x2="219.69" y2="303.21" stroke="#1a1a1a" stroke-width="1.2"/>
<line x1="164.6" y1="317.8" x2="227.8" y2="317.8" stroke="#1a1a1a" stroke-width="1.3"/>
<line x1="176.3" y1="259.4" x2="214.2" y2="259.4" stroke="#1a1a1a" stroke-width="1.2"/>
<line x1="196.5" y1="259.4" x2="196.5" y2="302.7" stroke="#1a1a1a" stroke-width="1.2"/>
<line x1="214.2" y1="259.4" x2="214.2" y2="300.8" stroke="#1a1a1a" stroke-width="1.2"/>
<circle cx="194.65" cy="256.4" r="0.9" fill="#2a2a2a"/>
<circle cx="197.35" cy="256.4" r="0.9" fill="#2a2a2a"/>
<text x="146.46" y="284.9" font-size="8.1" text-anchor="middle" textLength="48.8" lengthAdjust="spacingAndGlyphs" transform="rotate(-90 146.46 284.9)">mRNA <tspan font-style="italic">BAD</tspan> level</text>
<text x="136" y="327" font-size="7.26" textLength="22.3" lengthAdjust="spacingAndGlyphs">shRNA :</text>
<text x="176.4" y="327" font-size="7.26" text-anchor="middle" textLength="8.71" lengthAdjust="spacingAndGlyphs">NS</text>
<text x="195.9" y="327" font-size="7.26" text-anchor="middle" textLength="6.97" lengthAdjust="spacingAndGlyphs">#1</text>
<text x="216.3" y="327" font-size="7.26" text-anchor="middle" textLength="6.97" lengthAdjust="spacingAndGlyphs">#2</text>
<line x1="190.8" y1="329.6" x2="223.5" y2="329.6" stroke="#1a1a1a" stroke-width="1.2"/>
<text x="206.5" y="338.9" font-size="7.26" text-anchor="middle" textLength="12.89" lengthAdjust="spacingAndGlyphs" font-style="italic">BAD</text>
<text x="255" y="194.6" font-size="12" font-weight="bold" fill="#000">E</text>
<line x1="281.5" y1="242.4" x2="281.5" y2="318.3" stroke="#1a1a1a" stroke-width="1.3"/>
<line x1="278.9" y1="244.7" x2="281.5" y2="244.7" stroke="#1a1a1a" stroke-width="1.3"/>
<text x="275.9" y="247.15" font-size="6.9" text-anchor="end">1.5</text>
<line x1="278.9" y1="269.1" x2="281.5" y2="269.1" stroke="#1a1a1a" stroke-width="1.3"/>
<text x="275.9" y="271.55" font-size="6.9" text-anchor="end">1.0</text>
<line x1="278.9" y1="293.4" x2="281.5" y2="293.4" stroke="#1a1a1a" stroke-width="1.3"/>
<text x="275.9" y="295.85" font-size="6.9" text-anchor="end">0.5</text>
<line x1="278.9" y1="317.8" x2="281.5" y2="317.8" stroke="#1a1a1a" stroke-width="1.3"/>
<text x="275.9" y="320.25" font-size="6.9" text-anchor="end">0.0</text>
<line x1="281" y1="317.8" x2="367.5" y2="317.8" stroke="#1a1a1a" stroke-width="1.3"/>
<line x1="288.2" y1="317.8" x2="288.2" y2="320.6" stroke="#1a1a1a" stroke-width="1.1"/>
<line x1="298.61" y1="317.8" x2="298.61" y2="320.6" stroke="#1a1a1a" stroke-width="1.1"/>
<line x1="309.02" y1="317.8" x2="309.02" y2="320.6" stroke="#1a1a1a" stroke-width="1.1"/>
<line x1="319.43" y1="317.8" x2="319.43" y2="320.6" stroke="#1a1a1a" stroke-width="1.1"/>
<line x1="329.84" y1="317.8" x2="329.84" y2="320.6" stroke="#1a1a1a" stroke-width="1.1"/>
<line x1="340.25" y1="317.8" x2="340.25" y2="320.6" stroke="#1a1a1a" stroke-width="1.1"/>
<line x1="350.66" y1="317.8" x2="350.66" y2="320.6" stroke="#1a1a1a" stroke-width="1.1"/>
<line x1="361.07" y1="317.8" x2="361.07" y2="320.6" stroke="#1a1a1a" stroke-width="1.1"/>
<text x="288.2" y="329.6" font-size="7.26" text-anchor="middle">0</text>
<text x="298.61" y="329.6" font-size="7.26" text-anchor="middle" textLength="8.72" lengthAdjust="spacingAndGlyphs">0.1</text>
<text x="309.02" y="329.6" font-size="7.26" text-anchor="middle" textLength="8.72" lengthAdjust="spacingAndGlyphs">0.5</text>
<text x="319.43" y="329.6" font-size="7.26" text-anchor="middle">1</text>
<text x="329.84" y="329.6" font-size="7.26" text-anchor="middle">2</text>
<text x="340.25" y="329.6" font-size="7.26" text-anchor="middle">5</text>
<text x="350.66" y="329.6" font-size="7.26" text-anchor="middle" textLength="6.97" lengthAdjust="spacingAndGlyphs">10</text>
<text x="361.07" y="329.6" font-size="7.26" text-anchor="middle" textLength="6.97" lengthAdjust="spacingAndGlyphs">20</text>
<text x="325" y="340.5" font-size="7.48" text-anchor="middle" textLength="84" lengthAdjust="spacingAndGlyphs">GSK126 concentration (µM)</text>
<polyline points="288.2,269.2 298.61,278.92 309.02,284.75 319.43,287.18 329.84,292.53 340.25,298.85 350.66,300.3 361.07,307.11" stroke="#3d4358" stroke-width="1.6" fill="none" stroke-linejoin="round"/>
<line x1="288.2" y1="267.26" x2="288.2" y2="271.14" stroke="#3d4358" stroke-width="1.1"/>
<line x1="286.6" y1="267.26" x2="289.8" y2="267.26" stroke="#3d4358" stroke-width="1.1"/>
<line x1="286.6" y1="271.14" x2="289.8" y2="271.14" stroke="#3d4358" stroke-width="1.1"/>
<circle cx="288.2" cy="269.2" r="1.6" fill="#3d4358"/>
<line x1="298.61" y1="276.98" x2="298.61" y2="280.86" stroke="#3d4358" stroke-width="1.1"/>
<line x1="297.01" y1="276.98" x2="300.21" y2="276.98" stroke="#3d4358" stroke-width="1.1"/>
<line x1="297.01" y1="280.86" x2="300.21" y2="280.86" stroke="#3d4358" stroke-width="1.1"/>
<circle cx="298.61" cy="278.92" r="1.6" fill="#3d4358"/>
<line x1="309.02" y1="283.78" x2="309.02" y2="285.72" stroke="#3d4358" stroke-width="1.1"/>
<line x1="307.42" y1="283.78" x2="310.62" y2="283.78" stroke="#3d4358" stroke-width="1.1"/>
<line x1="307.42" y1="285.72" x2="310.62" y2="285.72" stroke="#3d4358" stroke-width="1.1"/>
<circle cx="309.02" cy="284.75" r="1.6" fill="#3d4358"/>
<line x1="319.43" y1="286.7" x2="319.43" y2="287.67" stroke="#3d4358" stroke-width="1.1"/>
<line x1="317.83" y1="286.7" x2="321.03" y2="286.7" stroke="#3d4358" stroke-width="1.1"/>
<line x1="317.83" y1="287.67" x2="321.03" y2="287.67" stroke="#3d4358" stroke-width="1.1"/>
<circle cx="319.43" cy="287.18" r="1.6" fill="#3d4358"/>
<line x1="329.84" y1="291.56" x2="329.84" y2="293.5" stroke="#3d4358" stroke-width="1.1"/>
<line x1="328.24" y1="291.56" x2="331.44" y2="291.56" stroke="#3d4358" stroke-width="1.1"/>
<line x1="328.24" y1="293.5" x2="331.44" y2="293.5" stroke="#3d4358" stroke-width="1.1"/>
<circle cx="329.84" cy="292.53" r="1.6" fill="#3d4358"/>
<line x1="340.25" y1="298.36" x2="340.25" y2="299.33" stroke="#3d4358" stroke-width="1.1"/>
<line x1="338.65" y1="298.36" x2="341.85" y2="298.36" stroke="#3d4358" stroke-width="1.1"/>
<line x1="338.65" y1="299.33" x2="341.85" y2="299.33" stroke="#3d4358" stroke-width="1.1"/>
<circle cx="340.25" cy="298.85" r="1.6" fill="#3d4358"/>
<line x1="350.66" y1="299.82" x2="350.66" y2="300.79" stroke="#3d4358" stroke-width="1.1"/>
<line x1="349.06" y1="299.82" x2="352.26" y2="299.82" stroke="#3d4358" stroke-width="1.1"/>
<line x1="349.06" y1="300.79" x2="352.26" y2="300.79" stroke="#3d4358" stroke-width="1.1"/>
<circle cx="350.66" cy="300.3" r="1.6" fill="#3d4358"/>
<line x1="361.07" y1="305.17" x2="361.07" y2="309.05" stroke="#3d4358" stroke-width="1.1"/>
<line x1="359.47" y1="305.17" x2="362.67" y2="305.17" stroke="#3d4358" stroke-width="1.1"/>
<line x1="359.47" y1="309.05" x2="362.67" y2="309.05" stroke="#3d4358" stroke-width="1.1"/>
<circle cx="361.07" cy="307.11" r="1.6" fill="#3d4358"/>
<polyline points="288.2,269.2 298.61,270.66 309.02,275.03 319.43,277.46 329.84,277.46 340.25,281.84 350.66,281.84 361.07,286.7" stroke="#e8a22a" stroke-width="1.6" fill="none" stroke-linejoin="round"/>
<line x1="288.2" y1="267.75" x2="288.2" y2="270.65" stroke="#e8a22a" stroke-width="1.1"/>
<line x1="286.6" y1="267.75" x2="289.8" y2="267.75" stroke="#e8a22a" stroke-width="1.1"/>
<line x1="286.6" y1="270.65" x2="289.8" y2="270.65" stroke="#e8a22a" stroke-width="1.1"/>
<circle cx="288.2" cy="269.2" r="1.6" fill="#e8a22a"/>
<line x1="298.61" y1="265.81" x2="298.61" y2="275.51" stroke="#e8a22a" stroke-width="1.1"/>
<line x1="297.01" y1="265.81" x2="300.21" y2="265.81" stroke="#e8a22a" stroke-width="1.1"/>
<line x1="297.01" y1="275.51" x2="300.21" y2="275.51" stroke="#e8a22a" stroke-width="1.1"/>
<circle cx="298.61" cy="270.66" r="1.6" fill="#e8a22a"/>
<line x1="309.02" y1="272.61" x2="309.02" y2="277.46" stroke="#e8a22a" stroke-width="1.1"/>
<line x1="307.42" y1="272.61" x2="310.62" y2="272.61" stroke="#e8a22a" stroke-width="1.1"/>
<line x1="307.42" y1="277.46" x2="310.62" y2="277.46" stroke="#e8a22a" stroke-width="1.1"/>
<circle cx="309.02" cy="275.03" r="1.6" fill="#e8a22a"/>
<line x1="319.43" y1="276.01" x2="319.43" y2="278.92" stroke="#e8a22a" stroke-width="1.1"/>
<line x1="317.83" y1="276.01" x2="321.03" y2="276.01" stroke="#e8a22a" stroke-width="1.1"/>
<line x1="317.83" y1="278.92" x2="321.03" y2="278.92" stroke="#e8a22a" stroke-width="1.1"/>
<circle cx="319.43" cy="277.46" r="1.6" fill="#e8a22a"/>
<line x1="329.84" y1="275.52" x2="329.84" y2="279.4" stroke="#e8a22a" stroke-width="1.1"/>
<line x1="328.24" y1="275.52" x2="331.44" y2="275.52" stroke="#e8a22a" stroke-width="1.1"/>
<line x1="328.24" y1="279.4" x2="331.44" y2="279.4" stroke="#e8a22a" stroke-width="1.1"/>
<circle cx="329.84" cy="277.46" r="1.6" fill="#e8a22a"/>
<line x1="340.25" y1="280.38" x2="340.25" y2="283.29" stroke="#e8a22a" stroke-width="1.1"/>
<line x1="338.65" y1="280.38" x2="341.85" y2="280.38" stroke="#e8a22a" stroke-width="1.1"/>
<line x1="338.65" y1="283.29" x2="341.85" y2="283.29" stroke="#e8a22a" stroke-width="1.1"/>
<circle cx="340.25" cy="281.84" r="1.6" fill="#e8a22a"/>
<line x1="350.66" y1="278.44" x2="350.66" y2="285.23" stroke="#e8a22a" stroke-width="1.1"/>
<line x1="349.06" y1="278.44" x2="352.26" y2="278.44" stroke="#e8a22a" stroke-width="1.1"/>
<line x1="349.06" y1="285.23" x2="352.26" y2="285.23" stroke="#e8a22a" stroke-width="1.1"/>
<circle cx="350.66" cy="281.84" r="1.6" fill="#e8a22a"/>
<line x1="361.07" y1="280.88" x2="361.07" y2="292.52" stroke="#e8a22a" stroke-width="1.1"/>
<line x1="359.47" y1="280.88" x2="362.67" y2="280.88" stroke="#e8a22a" stroke-width="1.1"/>
<line x1="359.47" y1="292.52" x2="362.67" y2="292.52" stroke="#e8a22a" stroke-width="1.1"/>
<circle cx="361.07" cy="286.7" r="1.6" fill="#e8a22a"/>
<polyline points="288.2,269.2 298.61,271.63 309.02,276.49 319.43,275.52 329.84,274.55 340.25,281.35 350.66,283.29 361.07,281.35" stroke="#2a4282" stroke-width="1.6" fill="none" stroke-linejoin="round"/>
<line x1="288.2" y1="266.77" x2="288.2" y2="271.62" stroke="#2a4282" stroke-width="1.1"/>
<line x1="286.6" y1="266.77" x2="289.8" y2="266.77" stroke="#2a4282" stroke-width="1.1"/>
<line x1="286.6" y1="271.62" x2="289.8" y2="271.62" stroke="#2a4282" stroke-width="1.1"/>
<circle cx="288.2" cy="269.2" r="1.6" fill="#2a4282"/>
<line x1="298.61" y1="269.2" x2="298.61" y2="274.06" stroke="#2a4282" stroke-width="1.1"/>
<line x1="297.01" y1="269.2" x2="300.21" y2="269.2" stroke="#2a4282" stroke-width="1.1"/>
<line x1="297.01" y1="274.06" x2="300.21" y2="274.06" stroke="#2a4282" stroke-width="1.1"/>
<circle cx="298.61" cy="271.63" r="1.6" fill="#2a4282"/>
<line x1="309.02" y1="275.04" x2="309.02" y2="277.94" stroke="#2a4282" stroke-width="1.1"/>
<line x1="307.42" y1="275.04" x2="310.62" y2="275.04" stroke="#2a4282" stroke-width="1.1"/>
<line x1="307.42" y1="277.94" x2="310.62" y2="277.94" stroke="#2a4282" stroke-width="1.1"/>
<circle cx="309.02" cy="276.49" r="1.6" fill="#2a4282"/>
<line x1="319.43" y1="274.55" x2="319.43" y2="276.49" stroke="#2a4282" stroke-width="1.1"/>
<line x1="317.83" y1="274.55" x2="321.03" y2="274.55" stroke="#2a4282" stroke-width="1.1"/>
<line x1="317.83" y1="276.49" x2="321.03" y2="276.49" stroke="#2a4282" stroke-width="1.1"/>
<circle cx="319.43" cy="275.52" r="1.6" fill="#2a4282"/>
<line x1="329.84" y1="272.61" x2="329.84" y2="276.49" stroke="#2a4282" stroke-width="1.1"/>
<line x1="328.24" y1="272.61" x2="331.44" y2="272.61" stroke="#2a4282" stroke-width="1.1"/>
<line x1="328.24" y1="276.49" x2="331.44" y2="276.49" stroke="#2a4282" stroke-width="1.1"/>
<circle cx="329.84" cy="274.55" r="1.6" fill="#2a4282"/>
<line x1="340.25" y1="279.9" x2="340.25" y2="282.81" stroke="#2a4282" stroke-width="1.1"/>
<line x1="338.65" y1="279.9" x2="341.85" y2="279.9" stroke="#2a4282" stroke-width="1.1"/>
<line x1="338.65" y1="282.81" x2="341.85" y2="282.81" stroke="#2a4282" stroke-width="1.1"/>
<circle cx="340.25" cy="281.35" r="1.6" fill="#2a4282"/>
<line x1="350.66" y1="280.87" x2="350.66" y2="285.72" stroke="#2a4282" stroke-width="1.1"/>
<line x1="349.06" y1="280.87" x2="352.26" y2="280.87" stroke="#2a4282" stroke-width="1.1"/>
<line x1="349.06" y1="285.72" x2="352.26" y2="285.72" stroke="#2a4282" stroke-width="1.1"/>
<circle cx="350.66" cy="283.29" r="1.6" fill="#2a4282"/>
<line x1="361.07" y1="276.99" x2="361.07" y2="285.72" stroke="#2a4282" stroke-width="1.1"/>
<line x1="359.47" y1="276.99" x2="362.67" y2="276.99" stroke="#2a4282" stroke-width="1.1"/>
<line x1="359.47" y1="285.72" x2="362.67" y2="285.72" stroke="#2a4282" stroke-width="1.1"/>
<circle cx="361.07" cy="281.35" r="1.6" fill="#2a4282"/>
<text x="261.46" y="279.4" font-size="8.1" text-anchor="middle" textLength="60.5" lengthAdjust="spacingAndGlyphs" transform="rotate(-90 261.46 279.4)">Relative cell survival</text>
<line x1="292.4" y1="221" x2="301.2" y2="221" stroke="#3d4358" stroke-width="1.4"/>
<circle cx="296.8" cy="221" r="1.3" fill="#3d4358"/>
<text x="303" y="223.4" font-size="7.26" textLength="8.5" lengthAdjust="spacingAndGlyphs">NS</text>
<line x1="292.4" y1="228.5" x2="301.2" y2="228.5" stroke="#e8a22a" stroke-width="1.4"/>
<circle cx="296.8" cy="228.5" r="1.3" fill="#e8a22a"/>
<text x="303" y="230.9" font-size="7.26" textLength="28" lengthAdjust="spacingAndGlyphs">shRNA #1</text>
<line x1="292.4" y1="237.3" x2="301.2" y2="237.3" stroke="#2a4282" stroke-width="1.4"/>
<circle cx="296.8" cy="237.3" r="1.3" fill="#2a4282"/>
<text x="303" y="239.7" font-size="7.26" textLength="28" lengthAdjust="spacingAndGlyphs">shRNA #2</text>
<rect x="334" y="225.3" width="1.2" height="15.5" fill="#1a1a1a"/>
<text x="337" y="235.3" font-size="7.26" textLength="26" lengthAdjust="spacingAndGlyphs" font-style="italic">TNFSF10</text>
<rect x="365.2" y="285.8" width="3.8" height="22.7" fill="#657070"/>
<rect x="367.1" y="279.5" width="1.9" height="6.5" fill="#657070"/>
<circle cx="371.1" cy="294.45" r="0.9" fill="#2a2a2a"/>
<circle cx="371.1" cy="296.95" r="0.9" fill="#2a2a2a"/>
<line x1="406.1" y1="242.4" x2="406.1" y2="318.3" stroke="#1a1a1a" stroke-width="1.3"/>
<line x1="403.5" y1="244.7" x2="406.1" y2="244.7" stroke="#1a1a1a" stroke-width="1.3"/>
<text x="400.5" y="247.15" font-size="6.9" text-anchor="end">1.5</text>
<line x1="403.5" y1="269.1" x2="406.1" y2="269.1" stroke="#1a1a1a" stroke-width="1.3"/>
<text x="400.5" y="271.55" font-size="6.9" text-anchor="end">1.0</text>
<line x1="403.5" y1="293.4" x2="406.1" y2="293.4" stroke="#1a1a1a" stroke-width="1.3"/>
<text x="400.5" y="295.85" font-size="6.9" text-anchor="end">0.5</text>
<line x1="403.5" y1="317.8" x2="406.1" y2="317.8" stroke="#1a1a1a" stroke-width="1.3"/>
<text x="400.5" y="320.25" font-size="6.9" text-anchor="end">0.0</text>
<line x1="405.6" y1="317.8" x2="491.8" y2="317.8" stroke="#1a1a1a" stroke-width="1.3"/>
<line x1="413" y1="317.8" x2="413" y2="320.6" stroke="#1a1a1a" stroke-width="1.1"/>
<line x1="423.21" y1="317.8" x2="423.21" y2="320.6" stroke="#1a1a1a" stroke-width="1.1"/>
<line x1="433.42" y1="317.8" x2="433.42" y2="320.6" stroke="#1a1a1a" stroke-width="1.1"/>
<line x1="443.63" y1="317.8" x2="443.63" y2="320.6" stroke="#1a1a1a" stroke-width="1.1"/>
<line x1="453.84" y1="317.8" x2="453.84" y2="320.6" stroke="#1a1a1a" stroke-width="1.1"/>
<line x1="464.05" y1="317.8" x2="464.05" y2="320.6" stroke="#1a1a1a" stroke-width="1.1"/>
<line x1="474.26" y1="317.8" x2="474.26" y2="320.6" stroke="#1a1a1a" stroke-width="1.1"/>
<line x1="484.47" y1="317.8" x2="484.47" y2="320.6" stroke="#1a1a1a" stroke-width="1.1"/>
<text x="413" y="329.6" font-size="7.26" text-anchor="middle">0</text>
<text x="423.21" y="329.6" font-size="7.26" text-anchor="middle" textLength="8.72" lengthAdjust="spacingAndGlyphs">0.1</text>
<text x="433.42" y="329.6" font-size="7.26" text-anchor="middle" textLength="8.72" lengthAdjust="spacingAndGlyphs">0.5</text>
<text x="443.63" y="329.6" font-size="7.26" text-anchor="middle">1</text>
<text x="453.84" y="329.6" font-size="7.26" text-anchor="middle">2</text>
<text x="464.05" y="329.6" font-size="7.26" text-anchor="middle">5</text>
<text x="474.26" y="329.6" font-size="7.26" text-anchor="middle" textLength="6.97" lengthAdjust="spacingAndGlyphs">10</text>
<text x="484.47" y="329.6" font-size="7.26" text-anchor="middle" textLength="6.97" lengthAdjust="spacingAndGlyphs">20</text>
<text x="449.45" y="340.5" font-size="7.48" text-anchor="middle" textLength="84" lengthAdjust="spacingAndGlyphs">GSK126 concentration (µM)</text>
<polyline points="413,269.2 423.21,270.66 433.42,287.18 443.63,289.61 453.84,300.3 464.05,301.28 474.26,305.16 484.47,307.59" stroke="#3d4358" stroke-width="1.6" fill="none" stroke-linejoin="round"/>
<line x1="413" y1="267.75" x2="413" y2="270.65" stroke="#3d4358" stroke-width="1.1"/>
<line x1="411.4" y1="267.75" x2="414.6" y2="267.75" stroke="#3d4358" stroke-width="1.1"/>
<line x1="411.4" y1="270.65" x2="414.6" y2="270.65" stroke="#3d4358" stroke-width="1.1"/>
<circle cx="413" cy="269.2" r="1.6" fill="#3d4358"/>
<line x1="423.21" y1="269.2" x2="423.21" y2="272.11" stroke="#3d4358" stroke-width="1.1"/>
<line x1="421.61" y1="269.2" x2="424.81" y2="269.2" stroke="#3d4358" stroke-width="1.1"/>
<line x1="421.61" y1="272.11" x2="424.81" y2="272.11" stroke="#3d4358" stroke-width="1.1"/>
<circle cx="423.21" cy="270.66" r="1.6" fill="#3d4358"/>
<line x1="433.42" y1="285.73" x2="433.42" y2="288.64" stroke="#3d4358" stroke-width="1.1"/>
<line x1="431.82" y1="285.73" x2="435.02" y2="285.73" stroke="#3d4358" stroke-width="1.1"/>
<line x1="431.82" y1="288.64" x2="435.02" y2="288.64" stroke="#3d4358" stroke-width="1.1"/>
<circle cx="433.42" cy="287.18" r="1.6" fill="#3d4358"/>
<line x1="443.63" y1="288.64" x2="443.63" y2="290.58" stroke="#3d4358" stroke-width="1.1"/>
<line x1="442.03" y1="288.64" x2="445.23" y2="288.64" stroke="#3d4358" stroke-width="1.1"/>
<line x1="442.03" y1="290.58" x2="445.23" y2="290.58" stroke="#3d4358" stroke-width="1.1"/>
<circle cx="443.63" cy="289.61" r="1.6" fill="#3d4358"/>
<line x1="453.84" y1="297.88" x2="453.84" y2="302.73" stroke="#3d4358" stroke-width="1.1"/>
<line x1="452.24" y1="297.88" x2="455.44" y2="297.88" stroke="#3d4358" stroke-width="1.1"/>
<line x1="452.24" y1="302.73" x2="455.44" y2="302.73" stroke="#3d4358" stroke-width="1.1"/>
<circle cx="453.84" cy="300.3" r="1.6" fill="#3d4358"/>
<line x1="464.05" y1="298.85" x2="464.05" y2="303.7" stroke="#3d4358" stroke-width="1.1"/>
<line x1="462.45" y1="298.85" x2="465.65" y2="298.85" stroke="#3d4358" stroke-width="1.1"/>
<line x1="462.45" y1="303.7" x2="465.65" y2="303.7" stroke="#3d4358" stroke-width="1.1"/>
<circle cx="464.05" cy="301.28" r="1.6" fill="#3d4358"/>
<line x1="474.26" y1="303.22" x2="474.26" y2="307.1" stroke="#3d4358" stroke-width="1.1"/>
<line x1="472.66" y1="303.22" x2="475.86" y2="303.22" stroke="#3d4358" stroke-width="1.1"/>
<line x1="472.66" y1="307.1" x2="475.86" y2="307.1" stroke="#3d4358" stroke-width="1.1"/>
<circle cx="474.26" cy="305.16" r="1.6" fill="#3d4358"/>
<line x1="484.47" y1="305.17" x2="484.47" y2="310.02" stroke="#3d4358" stroke-width="1.1"/>
<line x1="482.87" y1="305.17" x2="486.07" y2="305.17" stroke="#3d4358" stroke-width="1.1"/>
<line x1="482.87" y1="310.02" x2="486.07" y2="310.02" stroke="#3d4358" stroke-width="1.1"/>
<circle cx="484.47" cy="307.59" r="1.6" fill="#3d4358"/>
<polyline points="413,269.2 423.21,265.8 433.42,283.29 443.63,284.27 453.84,287.18 464.05,285.24 474.26,285.24 484.47,293.01" stroke="#6fae45" stroke-width="1.6" fill="none" stroke-linejoin="round"/>
<line x1="413" y1="264.35" x2="413" y2="274.05" stroke="#6fae45" stroke-width="1.1"/>
<line x1="411.4" y1="264.35" x2="414.6" y2="264.35" stroke="#6fae45" stroke-width="1.1"/>
<line x1="411.4" y1="274.05" x2="414.6" y2="274.05" stroke="#6fae45" stroke-width="1.1"/>
<circle cx="413" cy="269.2" r="1.6" fill="#6fae45"/>
<line x1="423.21" y1="263.37" x2="423.21" y2="268.22" stroke="#6fae45" stroke-width="1.1"/>
<line x1="421.61" y1="263.37" x2="424.81" y2="263.37" stroke="#6fae45" stroke-width="1.1"/>
<line x1="421.61" y1="268.22" x2="424.81" y2="268.22" stroke="#6fae45" stroke-width="1.1"/>
<circle cx="423.21" cy="265.8" r="1.6" fill="#6fae45"/>
<line x1="433.42" y1="280.87" x2="433.42" y2="285.72" stroke="#6fae45" stroke-width="1.1"/>
<line x1="431.82" y1="280.87" x2="435.02" y2="280.87" stroke="#6fae45" stroke-width="1.1"/>
<line x1="431.82" y1="285.72" x2="435.02" y2="285.72" stroke="#6fae45" stroke-width="1.1"/>
<circle cx="433.42" cy="283.29" r="1.6" fill="#6fae45"/>
<line x1="443.63" y1="282.33" x2="443.63" y2="286.21" stroke="#6fae45" stroke-width="1.1"/>
<line x1="442.03" y1="282.33" x2="445.23" y2="282.33" stroke="#6fae45" stroke-width="1.1"/>
<line x1="442.03" y1="286.21" x2="445.23" y2="286.21" stroke="#6fae45" stroke-width="1.1"/>
<circle cx="443.63" cy="284.27" r="1.6" fill="#6fae45"/>
<line x1="453.84" y1="283.79" x2="453.84" y2="290.58" stroke="#6fae45" stroke-width="1.1"/>
<line x1="452.24" y1="283.79" x2="455.44" y2="283.79" stroke="#6fae45" stroke-width="1.1"/>
<line x1="452.24" y1="290.58" x2="455.44" y2="290.58" stroke="#6fae45" stroke-width="1.1"/>
<circle cx="453.84" cy="287.18" r="1.6" fill="#6fae45"/>
<line x1="464.05" y1="282.81" x2="464.05" y2="287.66" stroke="#6fae45" stroke-width="1.1"/>
<line x1="462.45" y1="282.81" x2="465.65" y2="282.81" stroke="#6fae45" stroke-width="1.1"/>
<line x1="462.45" y1="287.66" x2="465.65" y2="287.66" stroke="#6fae45" stroke-width="1.1"/>
<circle cx="464.05" cy="285.24" r="1.6" fill="#6fae45"/>
<line x1="474.26" y1="283.3" x2="474.26" y2="287.18" stroke="#6fae45" stroke-width="1.1"/>
<line x1="472.66" y1="283.3" x2="475.86" y2="283.3" stroke="#6fae45" stroke-width="1.1"/>
<line x1="472.66" y1="287.18" x2="475.86" y2="287.18" stroke="#6fae45" stroke-width="1.1"/>
<circle cx="474.26" cy="285.24" r="1.6" fill="#6fae45"/>
<line x1="484.47" y1="290.1" x2="484.47" y2="295.92" stroke="#6fae45" stroke-width="1.1"/>
<line x1="482.87" y1="290.1" x2="486.07" y2="290.1" stroke="#6fae45" stroke-width="1.1"/>
<line x1="482.87" y1="295.92" x2="486.07" y2="295.92" stroke="#6fae45" stroke-width="1.1"/>
<circle cx="484.47" cy="293.01" r="1.6" fill="#6fae45"/>
<polyline points="413,269.2 423.21,271.14 433.42,277.95 443.63,281.84 453.84,283.29 464.05,283.78 474.26,282.32 484.47,279.89" stroke="#b0102f" stroke-width="1.6" fill="none" stroke-linejoin="round"/>
<line x1="413" y1="261.93" x2="413" y2="276.47" stroke="#b0102f" stroke-width="1.1"/>
<line x1="411.4" y1="261.93" x2="414.6" y2="261.93" stroke="#b0102f" stroke-width="1.1"/>
<line x1="411.4" y1="276.47" x2="414.6" y2="276.47" stroke="#b0102f" stroke-width="1.1"/>
<circle cx="413" cy="269.2" r="1.6" fill="#b0102f"/>
<line x1="423.21" y1="268.72" x2="423.21" y2="273.57" stroke="#b0102f" stroke-width="1.1"/>
<line x1="421.61" y1="268.72" x2="424.81" y2="268.72" stroke="#b0102f" stroke-width="1.1"/>
<line x1="421.61" y1="273.57" x2="424.81" y2="273.57" stroke="#b0102f" stroke-width="1.1"/>
<circle cx="423.21" cy="271.14" r="1.6" fill="#b0102f"/>
<line x1="433.42" y1="276.49" x2="433.42" y2="279.4" stroke="#b0102f" stroke-width="1.1"/>
<line x1="431.82" y1="276.49" x2="435.02" y2="276.49" stroke="#b0102f" stroke-width="1.1"/>
<line x1="431.82" y1="279.4" x2="435.02" y2="279.4" stroke="#b0102f" stroke-width="1.1"/>
<circle cx="433.42" cy="277.95" r="1.6" fill="#b0102f"/>
<line x1="443.63" y1="278.93" x2="443.63" y2="284.75" stroke="#b0102f" stroke-width="1.1"/>
<line x1="442.03" y1="278.93" x2="445.23" y2="278.93" stroke="#b0102f" stroke-width="1.1"/>
<line x1="442.03" y1="284.75" x2="445.23" y2="284.75" stroke="#b0102f" stroke-width="1.1"/>
<circle cx="443.63" cy="281.84" r="1.6" fill="#b0102f"/>
<line x1="453.84" y1="281.84" x2="453.84" y2="284.75" stroke="#b0102f" stroke-width="1.1"/>
<line x1="452.24" y1="281.84" x2="455.44" y2="281.84" stroke="#b0102f" stroke-width="1.1"/>
<line x1="452.24" y1="284.75" x2="455.44" y2="284.75" stroke="#b0102f" stroke-width="1.1"/>
<circle cx="453.84" cy="283.29" r="1.6" fill="#b0102f"/>
<line x1="464.05" y1="281.84" x2="464.05" y2="285.72" stroke="#b0102f" stroke-width="1.1"/>
<line x1="462.45" y1="281.84" x2="465.65" y2="281.84" stroke="#b0102f" stroke-width="1.1"/>
<line x1="462.45" y1="285.72" x2="465.65" y2="285.72" stroke="#b0102f" stroke-width="1.1"/>
<circle cx="464.05" cy="283.78" r="1.6" fill="#b0102f"/>
<line x1="474.26" y1="279.9" x2="474.26" y2="284.75" stroke="#b0102f" stroke-width="1.1"/>
<line x1="472.66" y1="279.9" x2="475.86" y2="279.9" stroke="#b0102f" stroke-width="1.1"/>
<line x1="472.66" y1="284.75" x2="475.86" y2="284.75" stroke="#b0102f" stroke-width="1.1"/>
<circle cx="474.26" cy="282.32" r="1.6" fill="#b0102f"/>
<line x1="484.47" y1="278.92" x2="484.47" y2="280.86" stroke="#b0102f" stroke-width="1.1"/>
<line x1="482.87" y1="278.92" x2="486.07" y2="278.92" stroke="#b0102f" stroke-width="1.1"/>
<line x1="482.87" y1="280.86" x2="486.07" y2="280.86" stroke="#b0102f" stroke-width="1.1"/>
<circle cx="484.47" cy="279.89" r="1.6" fill="#b0102f"/>
<text x="385.66" y="279.4" font-size="8.1" text-anchor="middle" textLength="60.5" lengthAdjust="spacingAndGlyphs" transform="rotate(-90 385.66 279.4)">Relative cell survival</text>
<line x1="420.8" y1="219.3" x2="429.6" y2="219.3" stroke="#3d4358" stroke-width="1.4"/>
<circle cx="425.2" cy="219.3" r="1.3" fill="#3d4358"/>
<text x="431.4" y="221.7" font-size="7.26" textLength="8.5" lengthAdjust="spacingAndGlyphs">NS</text>
<line x1="420.8" y1="226.9" x2="429.6" y2="226.9" stroke="#6fae45" stroke-width="1.4"/>
<circle cx="425.2" cy="226.9" r="1.3" fill="#6fae45"/>
<text x="431.4" y="229.3" font-size="7.26" textLength="28" lengthAdjust="spacingAndGlyphs">shRNA #1</text>
<line x1="420.8" y1="235.7" x2="429.6" y2="235.7" stroke="#b0102f" stroke-width="1.4"/>
<circle cx="425.2" cy="235.7" r="1.3" fill="#b0102f"/>
<text x="431.4" y="238.1" font-size="7.26" textLength="28" lengthAdjust="spacingAndGlyphs">shRNA #2</text>
<rect x="461.7" y="223.7" width="1.2" height="15.5" fill="#1a1a1a"/>
<text x="464.7" y="233.7" font-size="7.26" textLength="13.9" lengthAdjust="spacingAndGlyphs" font-style="italic">BAD</text>
<rect x="489" y="293.1" width="1.4" height="14.6" fill="#555"/>
<rect x="494.2" y="278.6" width="1.5" height="29.1" fill="#555"/>
<circle cx="492.5" cy="299.35" r="0.9" fill="#2a2a2a"/>
<circle cx="492.5" cy="301.85" r="0.9" fill="#2a2a2a"/>
<circle cx="499.3" cy="291.2" r="0.9" fill="#2a2a2a"/>
<circle cx="499.3" cy="293.7" r="0.9" fill="#2a2a2a"/>
<circle cx="499.3" cy="296.2" r="0.9" fill="#2a2a2a"/>
<text x="7" y="363" font-size="12" font-weight="bold" fill="#000">F</text>
<line x1="46" y1="376.2" x2="46" y2="446" stroke="#1a1a1a" stroke-width="1.3"/>
<line x1="43.4" y1="378.5" x2="46" y2="378.5" stroke="#1a1a1a" stroke-width="1.3"/>
<text x="40.4" y="380.95" font-size="6.9" text-anchor="end">100</text>
<line x1="43.4" y1="392" x2="46" y2="392" stroke="#1a1a1a" stroke-width="1.3"/>
<text x="40.4" y="394.45" font-size="6.9" text-anchor="end">80</text>
<line x1="43.4" y1="405.4" x2="46" y2="405.4" stroke="#1a1a1a" stroke-width="1.3"/>
<text x="40.4" y="407.85" font-size="6.9" text-anchor="end">60</text>
<line x1="43.4" y1="418.9" x2="46" y2="418.9" stroke="#1a1a1a" stroke-width="1.3"/>
<text x="40.4" y="421.35" font-size="6.9" text-anchor="end">40</text>
<line x1="43.4" y1="432.3" x2="46" y2="432.3" stroke="#1a1a1a" stroke-width="1.3"/>
<text x="40.4" y="434.75" font-size="6.9" text-anchor="end">20</text>
<line x1="43.4" y1="445.6" x2="46" y2="445.6" stroke="#1a1a1a" stroke-width="1.3"/>
<text x="40.4" y="448.05" font-size="6.9" text-anchor="end">0</text>
<rect x="47.9" y="424.88" width="8.3" height="20.72" fill="#4b5163"/>
<rect x="47.9" y="424.08" width="8.3" height="2" rx="1.2" fill="#4b5163"/>
<line x1="48.7" y1="424.68" x2="55.4" y2="424.68" stroke="#1a1a1a" stroke-width="0.9" opacity="0.55"/>
<rect x="56.9" y="408.74" width="7.7" height="36.86" fill="#4b5163"/>
<rect x="56.9" y="407.94" width="7.7" height="2" rx="1.2" fill="#4b5163"/>
<line x1="57.7" y1="408.54" x2="63.8" y2="408.54" stroke="#1a1a1a" stroke-width="0.9" opacity="0.55"/>
<rect x="66.3" y="387.89" width="8.3" height="57.71" fill="#4b5163"/>
<rect x="66.3" y="387.09" width="8.3" height="2" rx="1.2" fill="#4b5163"/>
<line x1="67.1" y1="387.69" x2="73.8" y2="387.69" stroke="#1a1a1a" stroke-width="0.9" opacity="0.55"/>
<rect x="77.2" y="427.91" width="8.2" height="17.69" fill="#e59c22"/>
<rect x="77.2" y="427.11" width="8.2" height="2" rx="1.2" fill="#e59c22"/>
<line x1="78" y1="427.71" x2="84.6" y2="427.71" stroke="#1a1a1a" stroke-width="0.9" opacity="0.55"/>
<rect x="86.9" y="418.83" width="8.2" height="26.77" fill="#e59c22"/>
<rect x="86.9" y="418.03" width="8.2" height="2" rx="1.2" fill="#e59c22"/>
<line x1="87.7" y1="418.63" x2="94.3" y2="418.63" stroke="#1a1a1a" stroke-width="0.9" opacity="0.55"/>
<rect x="95.8" y="421.52" width="8" height="24.08" fill="#e59c22"/>
<rect x="95.8" y="420.72" width="8" height="2" rx="1.2" fill="#e59c22"/>
<line x1="96.6" y1="421.32" x2="103" y2="421.32" stroke="#1a1a1a" stroke-width="0.9" opacity="0.55"/>
<rect x="106.6" y="433.62" width="8" height="11.98" fill="#2c4a86"/>
<rect x="106.6" y="432.82" width="8" height="2" rx="1.2" fill="#2c4a86"/>
<line x1="107.4" y1="433.42" x2="113.8" y2="433.42" stroke="#1a1a1a" stroke-width="0.9" opacity="0.55"/>
<rect x="115.8" y="420.85" width="8" height="24.75" fill="#2c4a86"/>
<rect x="115.8" y="420.05" width="8" height="2" rx="1.2" fill="#2c4a86"/>
<line x1="116.6" y1="420.65" x2="123" y2="420.65" stroke="#1a1a1a" stroke-width="0.9" opacity="0.55"/>
<rect x="124.6" y="417.82" width="8.5" height="27.78" fill="#2c4a86"/>
<rect x="124.6" y="417.02" width="8.5" height="2" rx="1.2" fill="#2c4a86"/>
<line x1="125.4" y1="417.62" x2="132.3" y2="417.62" stroke="#1a1a1a" stroke-width="0.9" opacity="0.55"/>
<line x1="45.5" y1="445.5" x2="135.4" y2="445.5" stroke="#1a1a1a" stroke-width="1.3"/>
<line x1="70" y1="382" x2="129.7" y2="382" stroke="#1a1a1a" stroke-width="1.2"/>
<line x1="99.7" y1="382" x2="99.7" y2="414.6" stroke="#1a1a1a" stroke-width="1.2"/>
<line x1="129.7" y1="382" x2="129.7" y2="414.6" stroke="#1a1a1a" stroke-width="1.2"/>
<circle cx="96.8" cy="378.7" r="0.9" fill="#2a2a2a"/>
<circle cx="99.5" cy="378.7" r="0.9" fill="#2a2a2a"/>
<circle cx="102.2" cy="378.7" r="0.9" fill="#2a2a2a"/>
<text x="14.26" y="411.5" font-size="8.1" text-anchor="middle" textLength="38" lengthAdjust="spacingAndGlyphs" transform="rotate(-90 14.26 411.5)">% Annexin V</text>
<text x="23.61" y="411" font-size="8.1" text-anchor="middle" textLength="37.2" lengthAdjust="spacingAndGlyphs" transform="rotate(-90 23.61 411)">positive cells</text>
<text x="7.5" y="454.8" font-size="7.26" textLength="42.5" lengthAdjust="spacingAndGlyphs">GSK126 (µM) :</text>
<text x="52.5" y="454.8" font-size="7.26" text-anchor="middle">0</text>
<text x="61.5" y="454.8" font-size="7.26" text-anchor="middle">5</text>
<text x="70.3" y="454.8" font-size="7.26" text-anchor="middle" textLength="6.97" lengthAdjust="spacingAndGlyphs">10</text>
<text x="81.5" y="454.8" font-size="7.26" text-anchor="middle">0</text>
<text x="91.2" y="454.8" font-size="7.26" text-anchor="middle">5</text>
<text x="99.7" y="454.8" font-size="7.26" text-anchor="middle" textLength="6.97" lengthAdjust="spacingAndGlyphs">10</text>
<text x="110.8" y="454.8" font-size="7.26" text-anchor="middle">0</text>
<text x="120.2" y="454.8" font-size="7.26" text-anchor="middle">5</text>
<text x="128.8" y="454.8" font-size="7.26" text-anchor="middle" textLength="6.97" lengthAdjust="spacingAndGlyphs">10</text>
<line x1="51.25" y1="457.4" x2="75" y2="457.4" stroke="#1a1a1a" stroke-width="1.2"/>
<line x1="78.75" y1="457.4" x2="106.25" y2="457.4" stroke="#1a1a1a" stroke-width="1.2"/>
<line x1="110" y1="457.4" x2="135" y2="457.4" stroke="#1a1a1a" stroke-width="1.2"/>
<text x="25" y="465.2" font-size="7.26" textLength="23.7" lengthAdjust="spacingAndGlyphs">shRNA :</text>
<text x="63" y="465.2" font-size="7.26" text-anchor="middle" textLength="8.71" lengthAdjust="spacingAndGlyphs">NS</text>
<text x="90.6" y="465.2" font-size="7.26" text-anchor="middle" textLength="6.97" lengthAdjust="spacingAndGlyphs">#1</text>
<text x="121.9" y="465.2" font-size="7.26" text-anchor="middle" textLength="6.97" lengthAdjust="spacingAndGlyphs">#2</text>
<line x1="80" y1="466.9" x2="135" y2="466.9" stroke="#1a1a1a" stroke-width="1.2"/>
<text x="105.6" y="476.2" font-size="7.26" text-anchor="middle" textLength="27.17" lengthAdjust="spacingAndGlyphs" font-style="italic">TNFSF10</text>
<line x1="181.8" y1="376.2" x2="181.8" y2="446" stroke="#1a1a1a" stroke-width="1.3"/>
<line x1="179.2" y1="378.5" x2="181.8" y2="378.5" stroke="#1a1a1a" stroke-width="1.3"/>
<text x="176.2" y="380.95" font-size="6.9" text-anchor="end">100</text>
<line x1="179.2" y1="392" x2="181.8" y2="392" stroke="#1a1a1a" stroke-width="1.3"/>
<text x="176.2" y="394.45" font-size="6.9" text-anchor="end">80</text>
<line x1="179.2" y1="405.4" x2="181.8" y2="405.4" stroke="#1a1a1a" stroke-width="1.3"/>
<text x="176.2" y="407.85" font-size="6.9" text-anchor="end">60</text>
<line x1="179.2" y1="418.9" x2="181.8" y2="418.9" stroke="#1a1a1a" stroke-width="1.3"/>
<text x="176.2" y="421.35" font-size="6.9" text-anchor="end">40</text>
<line x1="179.2" y1="432.3" x2="181.8" y2="432.3" stroke="#1a1a1a" stroke-width="1.3"/>
<text x="176.2" y="434.75" font-size="6.9" text-anchor="end">20</text>
<line x1="179.2" y1="445.6" x2="181.8" y2="445.6" stroke="#1a1a1a" stroke-width="1.3"/>
<text x="176.2" y="448.05" font-size="6.9" text-anchor="end">0</text>
<rect x="184.3" y="424.21" width="7.7" height="21.39" fill="#4b5163"/>
<rect x="184.3" y="423.41" width="7.7" height="2" rx="1.2" fill="#4b5163"/>
<line x1="185.1" y1="424.01" x2="191.2" y2="424.01" stroke="#1a1a1a" stroke-width="0.9" opacity="0.55"/>
<rect x="193" y="408.07" width="7.8" height="37.53" fill="#4b5163"/>
<rect x="193" y="407.27" width="7.8" height="2" rx="1.2" fill="#4b5163"/>
<line x1="193.8" y1="407.87" x2="200" y2="407.87" stroke="#1a1a1a" stroke-width="0.9" opacity="0.55"/>
<rect x="201.8" y="387.22" width="8.2" height="58.38" fill="#4b5163"/>
<rect x="201.8" y="386.42" width="8.2" height="2" rx="1.2" fill="#4b5163"/>
<line x1="202.6" y1="387.02" x2="209.2" y2="387.02" stroke="#1a1a1a" stroke-width="0.9" opacity="0.55"/>
<rect x="213" y="417.48" width="8.2" height="28.12" fill="#69ab3e"/>
<rect x="213" y="416.68" width="8.2" height="2" rx="1.2" fill="#69ab3e"/>
<line x1="213.8" y1="417.28" x2="220.4" y2="417.28" stroke="#1a1a1a" stroke-width="0.9" opacity="0.55"/>
<rect x="222.6" y="410.42" width="7.7" height="35.18" fill="#69ab3e"/>
<rect x="222.6" y="409.62" width="7.7" height="2" rx="1.2" fill="#69ab3e"/>
<line x1="223.4" y1="410.22" x2="229.5" y2="410.22" stroke="#1a1a1a" stroke-width="0.9" opacity="0.55"/>
<rect x="231.8" y="410.42" width="7.9" height="35.18" fill="#69ab3e"/>
<rect x="231.8" y="409.62" width="7.9" height="2" rx="1.2" fill="#69ab3e"/>
<line x1="232.6" y1="410.22" x2="238.9" y2="410.22" stroke="#1a1a1a" stroke-width="0.9" opacity="0.55"/>
<rect x="242.3" y="427.23" width="8.2" height="18.37" fill="#b30f2e"/>
<rect x="242.3" y="426.43" width="8.2" height="2" rx="1.2" fill="#b30f2e"/>
<line x1="243.1" y1="427.03" x2="249.7" y2="427.03" stroke="#1a1a1a" stroke-width="0.9" opacity="0.55"/>
<rect x="251.8" y="418.16" width="7.9" height="27.44" fill="#b30f2e"/>
<rect x="251.8" y="417.36" width="7.9" height="2" rx="1.2" fill="#b30f2e"/>
<line x1="252.6" y1="417.96" x2="258.9" y2="417.96" stroke="#1a1a1a" stroke-width="0.9" opacity="0.55"/>
<rect x="261" y="421.18" width="7.8" height="24.42" fill="#b30f2e"/>
<rect x="261" y="420.38" width="7.8" height="2" rx="1.2" fill="#b30f2e"/>
<line x1="261.8" y1="420.98" x2="268" y2="420.98" stroke="#1a1a1a" stroke-width="0.9" opacity="0.55"/>
<line x1="181.3" y1="445.5" x2="270.8" y2="445.5" stroke="#1a1a1a" stroke-width="1.3"/>
<line x1="205.4" y1="382.3" x2="264.6" y2="382.3" stroke="#1a1a1a" stroke-width="1.2"/>
<line x1="235" y1="382.3" x2="235" y2="406.9" stroke="#1a1a1a" stroke-width="1.2"/>
<line x1="264.6" y1="382.3" x2="264.6" y2="414.6" stroke="#1a1a1a" stroke-width="1.2"/>
<circle cx="231.9" cy="378.7" r="0.9" fill="#2a2a2a"/>
<circle cx="234.6" cy="378.7" r="0.9" fill="#2a2a2a"/>
<circle cx="237.3" cy="378.7" r="0.9" fill="#2a2a2a"/>
<text x="150.11" y="410.1" font-size="8.1" text-anchor="middle" textLength="38" lengthAdjust="spacingAndGlyphs" transform="rotate(-90 150.11 410.1)">% Annexin V</text>
<text x="159.91" y="409.4" font-size="8.1" text-anchor="middle" textLength="37.2" lengthAdjust="spacingAndGlyphs" transform="rotate(-90 159.91 409.4)">positive cells</text>
<text x="142.7" y="454.8" font-size="7.26" textLength="41.7" lengthAdjust="spacingAndGlyphs">GSK126 (µM) :</text>
<text x="187.6" y="454.8" font-size="7.26" text-anchor="middle">0</text>
<text x="196.5" y="454.8" font-size="7.26" text-anchor="middle">5</text>
<text x="206" y="454.8" font-size="7.26" text-anchor="middle" textLength="6.97" lengthAdjust="spacingAndGlyphs">10</text>
<text x="216.9" y="454.8" font-size="7.26" text-anchor="middle">0</text>
<text x="226.2" y="454.8" font-size="7.26" text-anchor="middle">5</text>
<text x="235.2" y="454.8" font-size="7.26" text-anchor="middle" textLength="6.97" lengthAdjust="spacingAndGlyphs">10</text>
<text x="246.4" y="454.8" font-size="7.26" text-anchor="middle">0</text>
<text x="255.4" y="454.8" font-size="7.26" text-anchor="middle">5</text>
<text x="264.6" y="454.8" font-size="7.26" text-anchor="middle" textLength="6.97" lengthAdjust="spacingAndGlyphs">10</text>
<line x1="185.8" y1="457.4" x2="208.7" y2="457.4" stroke="#1a1a1a" stroke-width="1.2"/>
<line x1="214.8" y1="457.4" x2="239" y2="457.4" stroke="#1a1a1a" stroke-width="1.2"/>
<line x1="243.7" y1="457.4" x2="267.9" y2="457.4" stroke="#1a1a1a" stroke-width="1.2"/>
<text x="160.2" y="465.2" font-size="7.26" textLength="24.2" lengthAdjust="spacingAndGlyphs">shRNA :</text>
<text x="195.1" y="465.2" font-size="7.26" text-anchor="middle" textLength="8.71" lengthAdjust="spacingAndGlyphs">NS</text>
<text x="225.7" y="465.2" font-size="7.26" text-anchor="middle" textLength="6.97" lengthAdjust="spacingAndGlyphs">#1</text>
<text x="257.5" y="465.2" font-size="7.26" text-anchor="middle" textLength="6.97" lengthAdjust="spacingAndGlyphs">#2</text>
<line x1="215.4" y1="466.9" x2="267.9" y2="466.9" stroke="#1a1a1a" stroke-width="1.2"/>
<text x="239" y="476.2" font-size="7.26" text-anchor="middle" textLength="12.89" lengthAdjust="spacingAndGlyphs" font-style="italic">BAD</text>
<text x="293.6" y="363.6" font-size="12" font-weight="bold" fill="#000">G</text>
<line x1="320.5" y1="374" x2="320.5" y2="446.2" stroke="#1a1a1a" stroke-width="1.3"/>
<line x1="317.9" y1="376.8" x2="320.5" y2="376.8" stroke="#1a1a1a" stroke-width="1.3"/>
<text x="314.9" y="379.25" font-size="6.9" text-anchor="end">2.5</text>
<line x1="317.9" y1="390.5" x2="320.5" y2="390.5" stroke="#1a1a1a" stroke-width="1.3"/>
<text x="314.9" y="392.95" font-size="6.9" text-anchor="end">2.0</text>
<line x1="317.9" y1="404.2" x2="320.5" y2="404.2" stroke="#1a1a1a" stroke-width="1.3"/>
<text x="314.9" y="406.65" font-size="6.9" text-anchor="end">1.5</text>
<line x1="317.9" y1="417.9" x2="320.5" y2="417.9" stroke="#1a1a1a" stroke-width="1.3"/>
<text x="314.9" y="420.35" font-size="6.9" text-anchor="end">1.0</text>
<line x1="317.9" y1="431.6" x2="320.5" y2="431.6" stroke="#1a1a1a" stroke-width="1.3"/>
<text x="314.9" y="434.05" font-size="6.9" text-anchor="end">0.5</text>
<line x1="317.9" y1="445.3" x2="320.5" y2="445.3" stroke="#1a1a1a" stroke-width="1.3"/>
<text x="314.9" y="447.75" font-size="6.9" text-anchor="end">0.0</text>
<rect x="323.3" y="416.8" width="7.7" height="28.9" fill="#4b5268"/>
<line x1="327.15" y1="416.8" x2="327.15" y2="412.42" stroke="#1a1a1a" stroke-width="1.2"/>
<line x1="325.3" y1="412.42" x2="329" y2="412.42" stroke="#1a1a1a" stroke-width="1.2"/>
<rect x="333.5" y="395.98" width="7.7" height="49.72" fill="#9c9fac"/>
<line x1="337.35" y1="395.98" x2="337.35" y2="393.24" stroke="#1a1a1a" stroke-width="1.2"/>
<line x1="335.5" y1="393.24" x2="339.2" y2="393.24" stroke="#1a1a1a" stroke-width="1.2"/>
<rect x="343.5" y="428.04" width="7.7" height="17.66" fill="#d99a88"/>
<line x1="347.35" y1="428.04" x2="347.35" y2="424.75" stroke="#1a1a1a" stroke-width="1.2"/>
<line x1="345.5" y1="424.75" x2="349.2" y2="424.75" stroke="#1a1a1a" stroke-width="1.2"/>
<rect x="353" y="425.02" width="8" height="20.68" fill="#b30f2e"/>
<line x1="357" y1="425.02" x2="357" y2="422.83" stroke="#1a1a1a" stroke-width="1.2"/>
<line x1="355.08" y1="422.83" x2="358.92" y2="422.83" stroke="#1a1a1a" stroke-width="1.2"/>
<rect x="363.2" y="439.82" width="7.7" height="5.88" fill="#a39bb3"/>
<line x1="367.05" y1="439.82" x2="367.05" y2="439.55" stroke="#1a1a1a" stroke-width="1.2"/>
<line x1="365.2" y1="439.55" x2="368.9" y2="439.55" stroke="#1a1a1a" stroke-width="1.2"/>
<rect x="372.9" y="439.82" width="8.1" height="5.88" fill="#55296f"/>
<line x1="376.95" y1="439.82" x2="376.95" y2="439.27" stroke="#1a1a1a" stroke-width="1.2"/>
<line x1="375.01" y1="439.27" x2="378.89" y2="439.27" stroke="#1a1a1a" stroke-width="1.2"/>
<rect x="382.7" y="425.02" width="8.1" height="20.68" fill="#bddba3"/>
<line x1="386.75" y1="425.02" x2="386.75" y2="424.48" stroke="#1a1a1a" stroke-width="1.2"/>
<line x1="384.81" y1="424.48" x2="388.69" y2="424.48" stroke="#1a1a1a" stroke-width="1.2"/>
<rect x="392.8" y="420.37" width="8.3" height="25.33" fill="#69ab3e"/>
<line x1="396.95" y1="420.37" x2="396.95" y2="415.16" stroke="#1a1a1a" stroke-width="1.2"/>
<line x1="394.96" y1="415.16" x2="398.94" y2="415.16" stroke="#1a1a1a" stroke-width="1.2"/>
<line x1="320" y1="445.6" x2="402.5" y2="445.6" stroke="#1a1a1a" stroke-width="1.3"/>
<polyline points="326.7,365.6 395.8,365.6 395.8,411.6" stroke="#1a1a1a" stroke-width="1.2" fill="none"/>
<circle cx="360.15" cy="362.8" r="0.9" fill="#2a2a2a"/>
<circle cx="362.85" cy="362.8" r="0.9" fill="#2a2a2a"/>
<polyline points="326.7,372.3 376.2,372.3 376.2,433.2" stroke="#1a1a1a" stroke-width="1.2" fill="none"/>
<circle cx="348.7" cy="369.3" r="0.9" fill="#2a2a2a"/>
<circle cx="351.4" cy="369.3" r="0.9" fill="#2a2a2a"/>
<circle cx="354.1" cy="369.3" r="0.9" fill="#2a2a2a"/>
<polyline points="326.7,378.8 356.5,378.8 356.5,419" stroke="#1a1a1a" stroke-width="1.2" fill="none"/>
<circle cx="340.45" cy="375.6" r="0.9" fill="#2a2a2a"/>
<circle cx="343.15" cy="375.6" r="0.9" fill="#2a2a2a"/>
<polyline points="326.7,385.4 337.3,385.4 337.3,389.7" stroke="#1a1a1a" stroke-width="1.2" fill="none"/>
<circle cx="332.3" cy="382.2" r="0.9" fill="#2a2a2a"/>
<text x="303.06" y="411.3" font-size="8.1" text-anchor="middle" textLength="61" lengthAdjust="spacingAndGlyphs" transform="rotate(-90 303.06 411.3)">mRNA <tspan font-style="italic">TNFSF10</tspan> level</text>
<text x="297.5" y="454.5" font-size="7.26" textLength="22.5" lengthAdjust="spacingAndGlyphs">GSK126</text>
<text x="327.5" y="454.5" font-size="6.82" text-anchor="middle">-</text>
<text x="337.5" y="454.5" font-size="6.82" text-anchor="middle">+</text>
<text x="347" y="454.5" font-size="6.82" text-anchor="middle">-</text>
<text x="356.25" y="454.5" font-size="6.82" text-anchor="middle">+</text>
<text x="366.25" y="454.5" font-size="6.82" text-anchor="middle">-</text>
<text x="376.25" y="454.5" font-size="6.82" text-anchor="middle">+</text>
<text x="386.25" y="454.5" font-size="6.82" text-anchor="middle">-</text>
<text x="396.25" y="454.5" font-size="6.82" text-anchor="middle">+</text>
<line x1="325" y1="457.2" x2="340" y2="457.2" stroke="#1a1a1a" stroke-width="1.2"/>
<line x1="343.75" y1="457.2" x2="360" y2="457.2" stroke="#1a1a1a" stroke-width="1.2"/>
<line x1="363.75" y1="457.2" x2="380" y2="457.2" stroke="#1a1a1a" stroke-width="1.2"/>
<line x1="382.5" y1="457.2" x2="402.5" y2="457.2" stroke="#1a1a1a" stroke-width="1.2"/>
<text x="334" y="465.9" font-size="7.26" text-anchor="middle" textLength="17.78" lengthAdjust="spacingAndGlyphs">Vector</text>
<text x="350.5" y="465.9" font-size="7.26" text-anchor="middle" textLength="13.59" lengthAdjust="spacingAndGlyphs">PI3K</text>
<text x="350.5" y="473.6" font-size="7.26" text-anchor="middle" textLength="8.71" lengthAdjust="spacingAndGlyphs">CA</text>
<text x="370" y="465.9" font-size="7.26" text-anchor="middle" textLength="15.68" lengthAdjust="spacingAndGlyphs">MEK-</text>
<text x="370" y="473.6" font-size="7.26" text-anchor="middle" textLength="9.06" lengthAdjust="spacingAndGlyphs">DD</text>
<text x="392.5" y="465.9" font-size="7.26" text-anchor="middle" textLength="20.55" lengthAdjust="spacingAndGlyphs">IGF-1R</text>
<line x1="430.8" y1="374" x2="430.8" y2="446.2" stroke="#1a1a1a" stroke-width="1.3"/>
<line x1="428.2" y1="377.1" x2="430.8" y2="377.1" stroke="#1a1a1a" stroke-width="1.3"/>
<text x="425.2" y="379.55" font-size="6.9" text-anchor="end">4</text>
<line x1="428.2" y1="394.4" x2="430.8" y2="394.4" stroke="#1a1a1a" stroke-width="1.3"/>
<text x="425.2" y="396.85" font-size="6.9" text-anchor="end">3</text>
<line x1="428.2" y1="411.3" x2="430.8" y2="411.3" stroke="#1a1a1a" stroke-width="1.3"/>
<text x="425.2" y="413.75" font-size="6.9" text-anchor="end">2</text>
<line x1="428.2" y1="428.5" x2="430.8" y2="428.5" stroke="#1a1a1a" stroke-width="1.3"/>
<text x="425.2" y="430.95" font-size="6.9" text-anchor="end">1</text>
<line x1="428.2" y1="445.7" x2="430.8" y2="445.7" stroke="#1a1a1a" stroke-width="1.3"/>
<text x="425.2" y="448.15" font-size="6.9" text-anchor="end">0</text>
<rect x="433" y="428.21" width="8.5" height="17.49" fill="#4b5268"/>
<line x1="437.25" y1="428.21" x2="437.25" y2="427.18" stroke="#1a1a1a" stroke-width="1.2"/>
<line x1="435.21" y1="427.18" x2="439.29" y2="427.18" stroke="#1a1a1a" stroke-width="1.2"/>
<rect x="443" y="389.11" width="8.2" height="56.59" fill="#9c9fac"/>
<line x1="447.1" y1="389.11" x2="447.1" y2="383.96" stroke="#1a1a1a" stroke-width="1.2"/>
<line x1="445.13" y1="383.96" x2="449.07" y2="383.96" stroke="#1a1a1a" stroke-width="1.2"/>
<rect x="453" y="431.98" width="8.3" height="13.72" fill="#d99a88"/>
<line x1="457.15" y1="431.98" x2="457.15" y2="431.64" stroke="#1a1a1a" stroke-width="1.2"/>
<line x1="455.16" y1="431.64" x2="459.14" y2="431.64" stroke="#1a1a1a" stroke-width="1.2"/>
<rect x="462.7" y="432.32" width="8.8" height="13.38" fill="#b30f2e"/>
<line x1="467.1" y1="432.32" x2="467.1" y2="430.61" stroke="#1a1a1a" stroke-width="1.2"/>
<line x1="464.99" y1="430.61" x2="469.21" y2="430.61" stroke="#1a1a1a" stroke-width="1.2"/>
<rect x="472.9" y="438.84" width="8.3" height="6.86" fill="#a39bb3"/>
<line x1="477.05" y1="438.84" x2="477.05" y2="437.98" stroke="#1a1a1a" stroke-width="1.2"/>
<line x1="475.06" y1="437.98" x2="479.04" y2="437.98" stroke="#1a1a1a" stroke-width="1.2"/>
<rect x="483" y="435.92" width="8.5" height="9.78" fill="#55296f"/>
<line x1="487.25" y1="435.92" x2="487.25" y2="432.49" stroke="#1a1a1a" stroke-width="1.2"/>
<line x1="485.21" y1="432.49" x2="489.29" y2="432.49" stroke="#1a1a1a" stroke-width="1.2"/>
<rect x="493" y="428.55" width="8.7" height="17.15" fill="#bddba3"/>
<line x1="497.35" y1="428.55" x2="497.35" y2="426.32" stroke="#1a1a1a" stroke-width="1.2"/>
<line x1="495.26" y1="426.32" x2="499.44" y2="426.32" stroke="#1a1a1a" stroke-width="1.2"/>
<rect x="503" y="425.46" width="8.3" height="20.24" fill="#69ab3e"/>
<line x1="507.15" y1="425.46" x2="507.15" y2="423.4" stroke="#1a1a1a" stroke-width="1.2"/>
<line x1="505.16" y1="423.4" x2="509.14" y2="423.4" stroke="#1a1a1a" stroke-width="1.2"/>
<line x1="430.3" y1="445.6" x2="512.3" y2="445.6" stroke="#1a1a1a" stroke-width="1.3"/>
<polyline points="437.9,378.5 447.5,378.5 447.5,383.8" stroke="#1a1a1a" stroke-width="1.2" fill="none"/>
<circle cx="443" cy="374.6" r="0.9" fill="#2a2a2a"/>
<polyline points="437.9,370 508,370 508,421.3" stroke="#1a1a1a" stroke-width="1.2" fill="none"/>
<circle cx="471.65" cy="367.2" r="0.9" fill="#2a2a2a"/>
<circle cx="474.35" cy="367.2" r="0.9" fill="#2a2a2a"/>
<polyline points="467.1,370 467.1,426.2" stroke="#1a1a1a" stroke-width="1.2" fill="none"/>
<polyline points="487.3,370 487.3,429" stroke="#1a1a1a" stroke-width="1.2" fill="none"/>
<text x="416.86" y="410" font-size="8.1" text-anchor="middle" textLength="48.3" lengthAdjust="spacingAndGlyphs" transform="rotate(-90 416.86 410)">mRNA <tspan font-style="italic">BAD</tspan> level</text>
<text x="410" y="454.5" font-size="7.26" textLength="22.5" lengthAdjust="spacingAndGlyphs">GSK126</text>
<text x="437.3" y="454.5" font-size="6.82" text-anchor="middle">-</text>
<text x="447.3" y="454.5" font-size="6.82" text-anchor="middle">+</text>
<text x="457.5" y="454.5" font-size="6.82" text-anchor="middle">-</text>
<text x="466.5" y="454.5" font-size="6.82" text-anchor="middle">+</text>
<text x="477.3" y="454.5" font-size="6.82" text-anchor="middle">-</text>
<text x="487" y="454.5" font-size="6.82" text-anchor="middle">+</text>
<text x="497" y="454.5" font-size="6.82" text-anchor="middle">-</text>
<text x="506.5" y="454.5" font-size="6.82" text-anchor="middle">+</text>
<line x1="434.4" y1="457.2" x2="449.8" y2="457.2" stroke="#1a1a1a" stroke-width="1.2"/>
<line x1="454.2" y1="457.2" x2="471.5" y2="457.2" stroke="#1a1a1a" stroke-width="1.2"/>
<line x1="474.2" y1="457.2" x2="489.6" y2="457.2" stroke="#1a1a1a" stroke-width="1.2"/>
<line x1="495" y1="457.2" x2="511.3" y2="457.2" stroke="#1a1a1a" stroke-width="1.2"/>
<text x="442" y="465.9" font-size="7.26" text-anchor="middle" textLength="17.78" lengthAdjust="spacingAndGlyphs">Vector</text>
<text x="461.3" y="465.9" font-size="7.26" text-anchor="middle" textLength="13.59" lengthAdjust="spacingAndGlyphs">PI3K</text>
<text x="461.3" y="473.6" font-size="7.26" text-anchor="middle" textLength="8.71" lengthAdjust="spacingAndGlyphs">CA</text>
<text x="481.3" y="465.9" font-size="7.26" text-anchor="middle" textLength="15.68" lengthAdjust="spacingAndGlyphs">MEK-</text>
<text x="481.3" y="473.6" font-size="7.26" text-anchor="middle" textLength="9.06" lengthAdjust="spacingAndGlyphs">DD</text>
<text x="503.6" y="465.9" font-size="7.26" text-anchor="middle" textLength="20.55" lengthAdjust="spacingAndGlyphs">IGF-1R</text>
<text x="6.8" y="495.6" font-size="12" font-weight="bold" fill="#000">H</text>
<linearGradient id="g1026" x1="0" y1="0" x2="1" y2="0"><stop offset="0" stop-color="#4a4a4a"/><stop offset="0.35" stop-color="#6e6e6e"/><stop offset="1" stop-color="#989898"/></linearGradient>
<rect x="47.1" y="507" width="58.1" height="12.5" fill="url(#g1026)"/>
<linearGradient id="g1026v" x1="0" y1="0" x2="0" y2="1"><stop offset="0" stop-color="#000" stop-opacity="0.15"/><stop offset="0.5" stop-color="#000" stop-opacity="0"/><stop offset="1" stop-color="#fff" stop-opacity="0.1"/></linearGradient>
<rect x="47.1" y="507" width="58.1" height="12.5" fill="url(#g1026v)"/>
<rect x="47.1" y="507" width="58.1" height="12.5" fill="#808080" filter="url(#nz)" opacity="0.1"/>
<g filter="url(#bl)">
<rect x="48.6" y="512.6" width="17.4" height="3" rx="1.5" fill="#1a1a1a" opacity="0.8"/>
<rect x="70.6" y="512.9" width="12.6" height="2.6" rx="1.3" fill="#2a2a2a" opacity="0.65"/>
<rect x="87.3" y="512.9" width="14.9" height="2.6" rx="1.3" fill="#333" opacity="0.55"/>
</g>
<rect x="47.1" y="507" width="58.1" height="12.5" fill="none" stroke="#000" stroke-width="1.1"/>
<rect x="47.1" y="523.1" width="58.1" height="13.2" fill="#efefef"/>
<g filter="url(#bl3)">
<rect x="48.8" y="528.3" width="14.4" height="3.4" rx="1.7" fill="#111" opacity="1"/>
<rect x="67.4" y="528.15" width="14.8" height="3.1" rx="1.55" fill="#111" opacity="1"/>
<rect x="87.1" y="527.4" width="16.5" height="3.4" rx="1.7" fill="#111" opacity="1"/>
</g>
<rect x="47.1" y="523.1" width="58.1" height="13.2" fill="none" stroke="#000" stroke-width="1.1"/>
<text x="108.3" y="517.1" font-size="7.26" textLength="26" lengthAdjust="spacingAndGlyphs">FOXO3A</text>
<text x="108.3" y="533.1" font-size="7.26" textLength="22.5" lengthAdjust="spacingAndGlyphs">ACTINB</text>
<line x1="49.3" y1="550" x2="49.3" y2="614.9" stroke="#1a1a1a" stroke-width="1.3"/>
<line x1="46.7" y1="552.3" x2="49.3" y2="552.3" stroke="#1a1a1a" stroke-width="1.3"/>
<text x="43.7" y="554.75" font-size="6.9" text-anchor="end">1.5</text>
<line x1="46.7" y1="572.9" x2="49.3" y2="572.9" stroke="#1a1a1a" stroke-width="1.3"/>
<text x="43.7" y="575.35" font-size="6.9" text-anchor="end">1.0</text>
<line x1="46.7" y1="593.5" x2="49.3" y2="593.5" stroke="#1a1a1a" stroke-width="1.3"/>
<text x="43.7" y="595.95" font-size="6.9" text-anchor="end">0.5</text>
<line x1="46.7" y1="614.4" x2="49.3" y2="614.4" stroke="#1a1a1a" stroke-width="1.3"/>
<text x="43.7" y="616.85" font-size="6.9" text-anchor="end">0.0</text>
<rect x="53" y="573.1" width="15.8" height="41.3" fill="#4b5268"/>
<line x1="60.9" y1="573.1" x2="60.9" y2="569.8" stroke="#1a1a1a" stroke-width="1.2"/>
<line x1="57.11" y1="569.8" x2="64.69" y2="569.8" stroke="#1a1a1a" stroke-width="1.2"/>
<rect x="72.3" y="604.9" width="15.4" height="9.5" fill="#a28bb8"/>
<line x1="80" y1="604.9" x2="80" y2="599.94" stroke="#1a1a1a" stroke-width="1.2"/>
<line x1="76.3" y1="599.94" x2="83.7" y2="599.94" stroke="#1a1a1a" stroke-width="1.2"/>
<rect x="90" y="613.16" width="15.4" height="1.24" fill="#5a2470"/>
<line x1="97.7" y1="613.16" x2="97.7" y2="611.92" stroke="#1a1a1a" stroke-width="1.2"/>
<line x1="94" y1="611.92" x2="101.4" y2="611.92" stroke="#1a1a1a" stroke-width="1.2"/>
<line x1="48.8" y1="614.4" x2="107" y2="614.4" stroke="#1a1a1a" stroke-width="1.3"/>
<polyline points="61.2,557.5 97.7,557.5 97.7,609.4" stroke="#1a1a1a" stroke-width="1.2" fill="none"/>
<polyline points="61.2,564.2 80.4,564.2 80.4,597.9" stroke="#1a1a1a" stroke-width="1.2" fill="none"/>
<circle cx="76.8" cy="554" r="0.9" fill="#2a2a2a"/>
<circle cx="79.5" cy="554" r="0.9" fill="#2a2a2a"/>
<circle cx="82.2" cy="554" r="0.9" fill="#2a2a2a"/>
<circle cx="68.45" cy="561" r="0.9" fill="#2a2a2a"/>
<circle cx="71.15" cy="561" r="0.9" fill="#2a2a2a"/>
<text x="29.96" y="580.9" font-size="8.1" text-anchor="middle" textLength="61" lengthAdjust="spacingAndGlyphs" transform="rotate(-90 29.96 580.9)">mRNA <tspan font-style="italic">FOXO3A</tspan> level</text>
<text x="25.6" y="623.1" font-size="7.26" textLength="20.2" lengthAdjust="spacingAndGlyphs">shRNA :</text>
<text x="61.2" y="623.1" font-size="7.26" text-anchor="middle" textLength="8.71" lengthAdjust="spacingAndGlyphs">NS</text>
<text x="79.4" y="623.1" font-size="7.26" text-anchor="middle" textLength="6.97" lengthAdjust="spacingAndGlyphs">#1</text>
<text x="97.7" y="623.1" font-size="7.26" text-anchor="middle" textLength="6.97" lengthAdjust="spacingAndGlyphs">#2</text>
<line x1="72.7" y1="625.4" x2="105.4" y2="625.4" stroke="#1a1a1a" stroke-width="1.2"/>
<text x="88.5" y="634.5" font-size="7.26" text-anchor="middle" textLength="25.44" lengthAdjust="spacingAndGlyphs" font-style="italic">FOXO3A</text>
<text x="140.4" y="492.1" font-size="12" font-weight="bold" fill="#000">I</text>
<rect x="211.4" y="494.8" width="9.2" height="4.4" fill="#505870"/>
<rect x="211.4" y="505.2" width="9.2" height="4.6" fill="#a28bb8"/>
<rect x="211.4" y="514.5" width="9.2" height="4.5" fill="#5a2470"/>
<text x="223" y="499.8" font-size="7.26" textLength="8.5" lengthAdjust="spacingAndGlyphs">NS</text>
<text x="223" y="510" font-size="7.26" textLength="28.4" lengthAdjust="spacingAndGlyphs">shRNA #1</text>
<text x="223" y="519.3" font-size="7.26" textLength="28.4" lengthAdjust="spacingAndGlyphs">shRNA #2</text>
<rect x="253.9" y="504" width="1.2" height="16" fill="#1a1a1a"/>
<text x="257.5" y="514.6" font-size="7.26" textLength="27.1" lengthAdjust="spacingAndGlyphs" font-style="italic">FOXO3A</text>
<line x1="177.8" y1="533.9" x2="177.8" y2="614.8" stroke="#1a1a1a" stroke-width="1.3"/>
<line x1="175.2" y1="536.2" x2="177.8" y2="536.2" stroke="#1a1a1a" stroke-width="1.3"/>
<text x="172.2" y="538.65" font-size="6.9" text-anchor="end">3</text>
<line x1="175.2" y1="562.1" x2="177.8" y2="562.1" stroke="#1a1a1a" stroke-width="1.3"/>
<text x="172.2" y="564.55" font-size="6.9" text-anchor="end">2</text>
<line x1="175.2" y1="588.1" x2="177.8" y2="588.1" stroke="#1a1a1a" stroke-width="1.3"/>
<text x="172.2" y="590.55" font-size="6.9" text-anchor="end">1</text>
<line x1="175.2" y1="614.3" x2="177.8" y2="614.3" stroke="#1a1a1a" stroke-width="1.3"/>
<text x="172.2" y="616.75" font-size="6.9" text-anchor="end">0</text>
<rect x="179.8" y="588.3" width="9.6" height="26" fill="#505870"/>
<line x1="184.6" y1="588.3" x2="184.6" y2="587.78" stroke="#1a1a1a" stroke-width="1.2"/>
<line x1="182.3" y1="587.78" x2="186.9" y2="587.78" stroke="#1a1a1a" stroke-width="1.2"/>
<rect x="191.9" y="599.22" width="9.6" height="15.08" fill="#a28bb8"/>
<line x1="196.7" y1="599.22" x2="196.7" y2="598.96" stroke="#1a1a1a" stroke-width="1.2"/>
<line x1="194.4" y1="598.96" x2="199" y2="598.96" stroke="#1a1a1a" stroke-width="1.2"/>
<rect x="204.2" y="604.16" width="9.6" height="10.14" fill="#5a2470"/>
<line x1="209" y1="604.16" x2="209" y2="601.82" stroke="#1a1a1a" stroke-width="1.2"/>
<line x1="206.7" y1="601.82" x2="211.3" y2="601.82" stroke="#1a1a1a" stroke-width="1.2"/>
<rect x="216.3" y="566.46" width="9.7" height="47.84" fill="#505870"/>
<line x1="221.15" y1="566.46" x2="221.15" y2="559.18" stroke="#1a1a1a" stroke-width="1.2"/>
<line x1="218.82" y1="559.18" x2="223.48" y2="559.18" stroke="#1a1a1a" stroke-width="1.2"/>
<rect x="228.8" y="599.74" width="9.7" height="14.56" fill="#a28bb8"/>
<line x1="233.65" y1="599.74" x2="233.65" y2="596.88" stroke="#1a1a1a" stroke-width="1.2"/>
<line x1="231.32" y1="596.88" x2="235.98" y2="596.88" stroke="#1a1a1a" stroke-width="1.2"/>
<rect x="240.8" y="592.2" width="9.7" height="22.1" fill="#5a2470"/>
<line x1="245.65" y1="592.2" x2="245.65" y2="591.94" stroke="#1a1a1a" stroke-width="1.2"/>
<line x1="243.32" y1="591.94" x2="247.98" y2="591.94" stroke="#1a1a1a" stroke-width="1.2"/>
<rect x="253.5" y="559.7" width="10" height="54.6" fill="#505870"/>
<line x1="258.5" y1="559.7" x2="258.5" y2="551.9" stroke="#1a1a1a" stroke-width="1.2"/>
<line x1="256.1" y1="551.9" x2="260.9" y2="551.9" stroke="#1a1a1a" stroke-width="1.2"/>
<rect x="266" y="600.26" width="9.6" height="14.04" fill="#a28bb8"/>
<line x1="270.8" y1="600.26" x2="270.8" y2="597.66" stroke="#1a1a1a" stroke-width="1.2"/>
<line x1="268.5" y1="597.66" x2="273.1" y2="597.66" stroke="#1a1a1a" stroke-width="1.2"/>
<rect x="278" y="595.32" width="9.7" height="18.98" fill="#5a2470"/>
<line x1="282.85" y1="595.32" x2="282.85" y2="595.06" stroke="#1a1a1a" stroke-width="1.2"/>
<line x1="280.52" y1="595.06" x2="285.18" y2="595.06" stroke="#1a1a1a" stroke-width="1.2"/>
<rect x="290.4" y="569.58" width="10.2" height="44.72" fill="#505870"/>
<line x1="295.5" y1="569.58" x2="295.5" y2="567.5" stroke="#1a1a1a" stroke-width="1.2"/>
<line x1="293.05" y1="567.5" x2="297.95" y2="567.5" stroke="#1a1a1a" stroke-width="1.2"/>
<rect x="303" y="592.72" width="9.7" height="21.58" fill="#a28bb8"/>
<line x1="307.85" y1="592.72" x2="307.85" y2="588.82" stroke="#1a1a1a" stroke-width="1.2"/>
<line x1="305.52" y1="588.82" x2="310.18" y2="588.82" stroke="#1a1a1a" stroke-width="1.2"/>
<rect x="315.4" y="592.98" width="9.6" height="21.32" fill="#5a2470"/>
<line x1="320.2" y1="592.98" x2="320.2" y2="592.72" stroke="#1a1a1a" stroke-width="1.2"/>
<line x1="317.9" y1="592.72" x2="322.5" y2="592.72" stroke="#1a1a1a" stroke-width="1.2"/>
<line x1="177.3" y1="614.3" x2="326.5" y2="614.3" stroke="#1a1a1a" stroke-width="1.3"/>
<polyline points="184.2,537.5 295.8,537.5 295.8,556.7" stroke="#1a1a1a" stroke-width="1.2" fill="none"/>
<polyline points="184.2,544.2 259.2,544.2 259.2,549" stroke="#1a1a1a" stroke-width="1.2" fill="none"/>
<polyline points="184.2,552.9 221.2,552.9 221.2,556.7" stroke="#1a1a1a" stroke-width="1.2" fill="none"/>
<polyline points="225,555.8 240,555.8 240,585.6" stroke="#1a1a1a" stroke-width="1.2" fill="none"/>
<line x1="233.7" y1="585.6" x2="246.2" y2="585.6" stroke="#1a1a1a" stroke-width="1.2"/>
<polyline points="260.8,547.7 277,547.7 277,588.5" stroke="#1a1a1a" stroke-width="1.2" fill="none"/>
<line x1="270.4" y1="588.5" x2="283.3" y2="588.5" stroke="#1a1a1a" stroke-width="1.2"/>
<polyline points="297.7,565 307.7,565 307.7,586.5" stroke="#1a1a1a" stroke-width="1.2" fill="none"/>
<polyline points="297.7,559.2 320.4,559.2 320.4,588" stroke="#1a1a1a" stroke-width="1.2" fill="none"/>
<circle cx="237.7" cy="534" r="0.9" fill="#2a2a2a"/>
<circle cx="240.4" cy="534" r="0.9" fill="#2a2a2a"/>
<circle cx="243.1" cy="534" r="0.9" fill="#2a2a2a"/>
<circle cx="221.5" cy="541" r="0.9" fill="#2a2a2a"/>
<circle cx="202.9" cy="549.8" r="0.9" fill="#2a2a2a"/>
<circle cx="232.7" cy="552.6" r="0.9" fill="#2a2a2a"/>
<circle cx="268.8" cy="544.5" r="0.9" fill="#2a2a2a"/>
<circle cx="301.15" cy="561.8" r="0.9" fill="#2a2a2a"/>
<circle cx="303.85" cy="561.8" r="0.9" fill="#2a2a2a"/>
<circle cx="306.5" cy="556.2" r="0.9" fill="#2a2a2a"/>
<circle cx="309.2" cy="556.2" r="0.9" fill="#2a2a2a"/>
<circle cx="311.9" cy="556.2" r="0.9" fill="#2a2a2a"/>
<text x="164.06" y="572.6" font-size="8.1" text-anchor="middle" textLength="61.6" lengthAdjust="spacingAndGlyphs" transform="rotate(-90 164.06 572.6)">mRNA <tspan font-style="italic">TNFSF10</tspan> level</text>
<line x1="182.5" y1="618" x2="213.7" y2="618" stroke="#1a1a1a" stroke-width="1.2"/>
<line x1="218.8" y1="618" x2="248.3" y2="618" stroke="#1a1a1a" stroke-width="1.2"/>
<line x1="253.5" y1="618" x2="284.6" y2="618" stroke="#1a1a1a" stroke-width="1.2"/>
<line x1="289.8" y1="618" x2="321" y2="618" stroke="#1a1a1a" stroke-width="1.2"/>
<text x="197.2" y="627.1" font-size="7.26" text-anchor="middle" textLength="19" lengthAdjust="spacingAndGlyphs">DMSO</text>
<text x="234.4" y="627.1" font-size="7.26" text-anchor="middle" textLength="22.8" lengthAdjust="spacingAndGlyphs">Pictlisib</text>
<text x="269" y="627.1" font-size="7.26" text-anchor="middle" textLength="31" lengthAdjust="spacingAndGlyphs">Trametinib</text>
<text x="306.7" y="627.1" font-size="7.26" text-anchor="middle" textLength="25" lengthAdjust="spacingAndGlyphs">Linsitinib</text>
<rect x="0" y="0" width="520" height="1.2" fill="#000"/>
<rect x="0" y="0" width="1.2" height="642" fill="#000"/>
<rect x="518.5" y="0" width="1.5" height="642" fill="#000"/>
<rect x="0" y="640.5" width="520" height="1.5" fill="#000"/>
</svg></body></html>
